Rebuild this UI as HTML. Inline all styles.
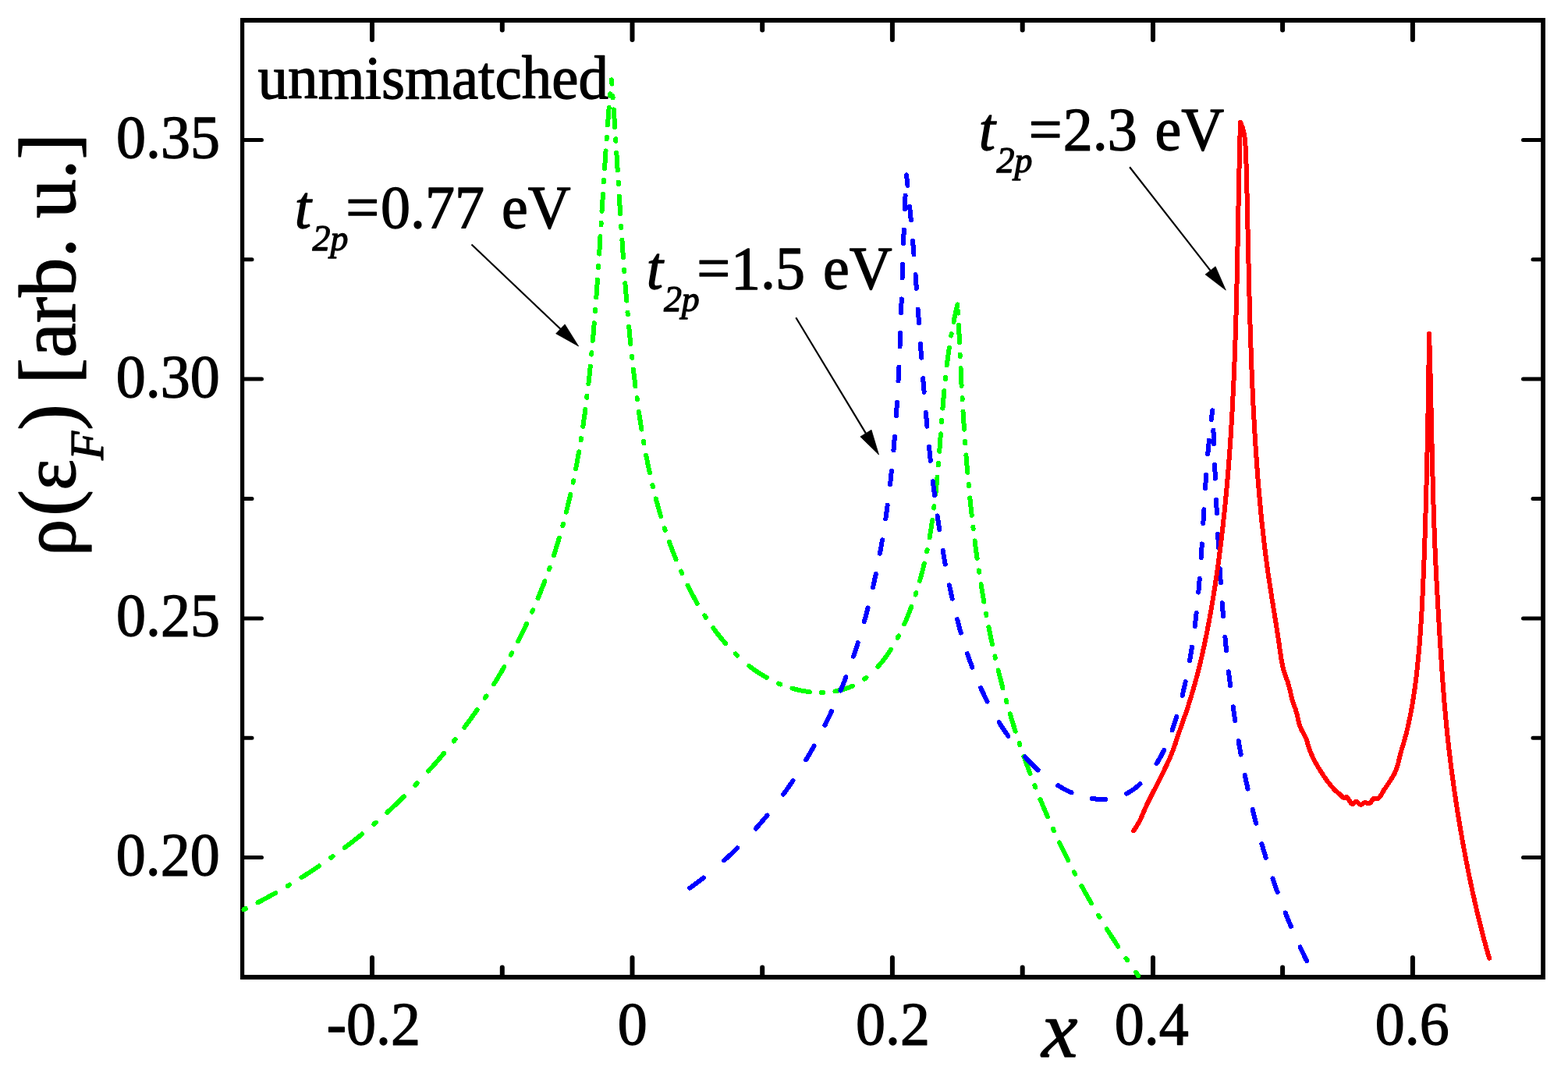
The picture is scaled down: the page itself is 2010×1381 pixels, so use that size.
<!DOCTYPE html>
<html lang="en"><head><meta charset="utf-8"><title>Density of states vs x</title>
<style>
html,body{margin:0;padding:0;background:#fff;}
body{width:2010px;height:1381px;overflow:hidden;}
svg{display:block;}
</style></head>
<body>
<svg width="2010" height="1381" viewBox="0 0 2010 1381">
<rect x="0" y="0" width="2010" height="1381" fill="#fff"/>
<g fill="#000">
<rect x="308" y="23" width="1673" height="6"/>
<rect x="308" y="1250" width="1673" height="6"/>
<rect x="308" y="23" width="5.2" height="1233"/>
<rect x="1975.2" y="23" width="5.8" height="1233"/>
</g>
<g stroke="#000" stroke-linecap="round" fill="none">
<path stroke-width="6" d="M477.0,1252V1228.0M477.0,27V51.0M643.8,1252V1240.5M643.8,27V38.5M810.5,1252V1228.0M810.5,27V51.0M977.2,1252V1240.5M977.2,27V38.5M1143.9,1252V1228.0M1143.9,27V51.0M1310.7,1252V1240.5M1310.7,27V38.5M1478.0,1252V1228.0M1478.0,27V51.0M1644.1,1252V1240.5M1644.1,27V38.5M1810.9,1252V1228.0M1810.9,27V51.0"/>
<path stroke-width="5" d="M311,1099.6H335.5M1978,1099.6H1952.5M311,946.2H323.0M1978,946.2H1965.0M311,792.9H335.5M1978,792.9H1952.5M311,639.5H323.0M1978,639.5H1965.0M311,486.1H335.5M1978,486.1H1952.5M311,332.8H323.0M1978,332.8H1965.0M311,179.4H335.5M1978,179.4H1952.5"/>
</g>
<g fill="none" stroke-linecap="round" stroke-linejoin="round" stroke-width="6.0" shape-rendering="crispEdges">
<path stroke="#00ff00" d="M312.5,1166.3 L313.7,1165.7 L314.9,1165.1 M330.5,1157.3 L331.8,1156.6 L333.1,1155.9 L334.5,1155.2 L335.8,1154.5 L337.1,1153.8 L338.5,1153.0 L339.8,1152.3 L341.1,1151.6 L342.5,1150.9 L343.8,1150.2 L345.1,1149.5 L346.5,1148.7 L347.8,1148.0 L349.1,1147.3 L350.4,1146.5 L351.8,1145.8 L353.1,1145.1 L353.3,1144.9 M368.9,1136.0 L370.1,1135.2 L371.3,1134.5 M386.5,1125.2 L387.7,1124.5 L388.9,1123.7 L390.2,1122.9 L391.5,1122.0 L392.7,1121.2 L394.0,1120.4 L395.3,1119.6 L396.5,1118.8 L397.8,1118.0 L399.1,1117.1 L400.3,1116.3 L401.6,1115.5 L402.8,1114.6 L404.1,1113.8 L405.3,1113.0 L406.6,1112.1 L407.8,1111.3 L409.1,1110.5 M424.3,1099.8 L425.5,1099.0 L426.7,1098.1 M441.9,1086.9 L442.9,1086.2 L444.1,1085.3 L445.3,1084.4 L446.5,1083.5 L447.7,1082.5 L448.8,1081.6 L450.0,1080.7 L451.2,1079.8 L452.4,1078.9 L453.6,1077.9 L454.8,1077.0 L455.9,1076.1 L457.1,1075.1 L458.3,1074.2 L459.5,1073.3 L460.6,1072.3 L461.8,1071.4 L463.0,1070.4 L464.1,1069.5 L464.2,1069.4 M479.4,1056.7 L480.2,1056.0 L481.4,1055.0 L481.7,1054.7 M496.4,1041.7 L497.4,1040.7 L498.5,1039.7 L499.6,1038.7 L500.7,1037.7 L501.8,1036.7 L502.9,1035.7 L504.0,1034.6 L505.1,1033.6 L506.2,1032.6 L507.3,1031.6 L508.4,1030.5 L509.5,1029.5 L510.5,1028.5 L511.6,1027.4 L512.7,1026.4 L513.8,1025.3 L514.9,1024.3 L515.9,1023.3 L517.0,1022.2 L517.9,1021.3 M532.4,1006.7 L533.2,1005.9 L534.2,1004.8 L534.7,1004.3 M549.1,988.8 L549.8,988.0 L550.8,986.9 L551.8,985.8 L552.8,984.7 L553.8,983.6 L554.8,982.5 L555.8,981.3 L556.8,980.2 L557.8,979.1 L558.8,978.0 L559.8,976.8 L560.7,975.7 L561.7,974.6 L562.7,973.4 L563.7,972.3 L564.6,971.2 L565.6,970.0 L566.6,968.9 L567.5,967.7 L568.5,966.6 L569.1,965.9 M581.7,950.4 L582.4,949.6 L583.3,948.4 L583.6,948.0 M595.3,932.7 L596.0,931.8 L596.9,930.6 L597.8,929.4 L598.7,928.2 L599.6,926.9 L600.5,925.7 L601.4,924.5 L602.2,923.3 L603.1,922.1 L604.0,920.9 L604.9,919.7 L605.7,918.5 L606.6,917.2 L607.5,916.0 L608.3,914.8 L609.2,913.6 L610.0,912.3 L610.9,911.1 L611.5,910.2 M621.8,894.9 L622.6,893.7 L623.4,892.5 M633.1,877.3 L633.6,876.5 L634.4,875.2 L635.2,873.9 L635.9,872.6 L636.7,871.4 L637.5,870.1 L638.3,868.8 L639.0,867.5 L639.8,866.2 L640.6,864.9 L641.3,863.7 L642.1,862.4 L642.9,861.1 L643.6,859.8 L644.4,858.5 L645.1,857.2 L645.9,855.9 L646.4,854.9 M654.9,839.7 L655.6,838.5 L656.2,837.3 M664.2,822.2 L664.9,820.8 L665.5,819.5 L666.2,818.2 L666.9,816.8 L667.6,815.5 L668.2,814.1 L668.9,812.8 L669.5,811.5 L670.2,810.1 L670.9,808.8 L671.5,807.4 L672.2,806.1 L672.8,804.7 L673.5,803.4 L674.1,802.0 L674.7,800.7 L675.1,799.8 M682.1,784.7 L682.6,783.5 L683.1,782.3 M689.5,767.3 L690.0,766.1 L690.6,764.7 L691.2,763.3 L691.7,762.0 L692.3,760.6 L692.8,759.2 L693.4,757.8 L694.0,756.4 L694.5,755.0 L695.0,753.6 L695.6,752.3 L696.1,750.9 L696.7,749.5 L697.2,748.1 L697.7,746.7 L698.3,745.3 L698.3,745.2 M703.8,730.2 L704.2,729.0 L704.7,727.8 M709.9,712.4 L710.3,711.1 L710.7,709.7 L711.2,708.3 L711.6,706.9 L712.1,705.4 L712.5,704.0 L713.0,702.6 L713.4,701.2 L713.9,699.8 L714.3,698.3 L714.7,696.9 L715.2,695.5 L715.6,694.1 L716.0,692.6 L716.4,691.2 L716.9,689.8 L716.9,689.7 M721.3,674.3 L721.6,673.1 L721.9,671.9 M725.9,656.6 L726.2,655.3 L726.6,653.8 L726.9,652.4 L727.3,651.0 L727.6,649.5 L728.0,648.1 L728.3,646.6 L728.7,645.2 L729.0,643.7 L729.4,642.3 L729.7,640.8 L730.0,639.3 L730.4,637.9 L730.7,636.4 L731.0,635.0 L731.3,634.0 M734.6,618.7 L734.9,617.5 L735.1,616.3 M738.1,601.4 L738.4,599.9 L738.6,598.4 L738.9,596.9 L739.2,595.5 L739.5,594.0 L739.7,592.5 L740.0,591.1 L740.3,589.6 L740.5,588.1 L740.8,586.6 L741.1,585.2 L741.3,583.7 L741.6,582.2 L741.9,580.7 L742.1,579.3 M744.6,564.3 L744.8,563.0 L745.0,562.0 M747.3,547.0 L747.5,545.7 L747.7,544.2 L747.9,542.7 L748.1,541.2 L748.3,539.7 L748.5,538.2 L748.7,536.7 L748.9,535.2 L749.1,533.7 L749.4,532.3 L749.6,530.8 L749.8,529.3 L750.0,527.8 L750.2,526.3 L750.3,525.0 M752.2,510.0 L752.4,508.8 L752.5,507.6 M754.3,492.3 L754.5,490.9 L754.7,489.4 L754.8,487.9 L755.0,486.3 L755.1,484.8 L755.3,483.3 L755.5,481.8 L755.6,480.3 L755.8,478.8 L756.0,477.3 L756.1,475.8 L756.3,474.3 L756.4,472.8 L756.6,471.3 L756.7,469.8 L756.7,469.8 M758.2,454.5 L758.4,453.2 L758.5,452.0 M759.9,436.8 L760.0,435.7 L760.1,434.1 L760.2,432.6 L760.4,431.1 L760.5,429.6 L760.6,428.1 L760.7,426.6 L760.9,425.1 L761.0,423.6 L761.1,422.1 L761.3,420.5 L761.4,419.0 L761.5,417.5 L761.6,416.0 L761.8,414.5 L761.8,414.3 M763.0,399.1 L763.1,397.9 L763.2,396.7 M764.3,381.3 L764.4,380.2 L764.5,378.7 L764.6,377.2 L764.7,375.7 L764.8,374.2 L764.9,372.7 L765.0,371.1 L765.2,369.6 L765.3,368.1 L765.4,366.6 L765.5,365.1 L765.6,363.6 L765.7,362.1 L765.8,360.6 L765.9,359.0 L765.9,358.5 M767.0,343.1 L767.0,341.9 L767.1,340.7 M768.1,325.6 L768.2,324.3 L768.3,322.7 L768.4,321.2 L768.5,319.7 L768.6,318.2 L768.7,316.7 L768.8,315.2 L768.9,313.7 L769.0,312.2 L769.1,310.7 L769.2,309.1 L769.3,307.6 L769.3,306.1 L769.4,304.6 L769.5,303.3 M770.5,288.2 L770.5,287.0 L770.6,285.8 M771.5,270.8 L771.6,269.4 L771.7,267.9 L771.8,266.4 L771.9,264.9 L772.0,263.4 L772.1,261.9 L772.2,260.4 L772.3,258.9 L772.4,257.4 L772.5,255.9 L772.6,254.4 L772.6,252.9 L772.7,251.4 L772.8,249.9 L772.9,248.6 M773.9,233.5 L773.9,232.4 L774.0,231.2 M775.0,215.9 L775.1,214.9 L775.2,213.4 L775.3,211.9 L775.4,210.4 L775.5,208.9 L775.6,207.4 L775.7,205.9 L775.8,204.4 L775.9,202.9 L776.0,201.5 L776.1,200.0 L776.2,198.5 L776.3,197.0 L776.4,195.5 L776.5,194.0 L776.5,193.4 M777.6,178.2 L777.7,177.1 L777.8,175.8 M778.9,160.5 L779.0,159.4 L779.1,157.9 L779.2,156.4 L779.4,154.9 L779.5,153.5 L779.6,152.0 L779.7,150.5 L779.8,149.0 L779.9,147.5 L780.1,146.1 L780.2,144.6 L780.3,143.1 L780.4,141.7 L780.5,140.2 L780.7,138.7 L780.7,138.0 M782.0,122.8 L782.1,121.6 L782.2,120.4 M783.6,105.1 L783.7,104.0 L783.9,102.6 L783.9,102.4 M783.9,102.4 L784.0,103.9 L784.1,105.4 L784.2,106.9 L784.3,107.6 M785.4,122.9 L785.5,124.2 L785.6,125.3 M786.7,140.5 L786.8,141.6 L786.9,143.1 L787.0,144.6 L787.1,146.1 L787.2,147.5 L787.3,149.0 L787.4,150.5 L787.5,152.0 L787.6,153.5 L787.7,155.0 L787.8,156.5 L787.9,158.0 L788.0,159.5 L788.1,161.0 L788.2,162.5 L788.2,163.0 M789.2,178.3 L789.3,179.4 L789.3,180.7 M790.3,195.9 L790.4,197.4 L790.5,198.9 L790.6,200.4 L790.7,201.9 L790.8,203.4 L790.9,204.9 L791.0,206.4 L791.1,207.9 L791.2,209.4 L791.3,210.9 L791.3,212.4 L791.4,213.9 L791.5,215.4 L791.6,216.9 L791.7,218.4 L791.7,218.4 M792.7,233.7 L792.7,234.9 L792.8,236.1 M793.8,251.5 L793.9,252.9 L794.0,254.4 L794.1,255.9 L794.1,257.4 L794.2,258.9 L794.3,260.4 L794.4,261.9 L794.5,263.4 L794.6,264.9 L794.7,266.4 L794.8,267.9 L794.9,269.4 L795.0,270.9 L795.1,272.4 L795.2,273.9 L795.2,274.3 M796.2,289.7 L796.3,290.9 L796.4,292.1 M797.4,307.6 L797.5,308.9 L797.6,310.5 L797.7,312.0 L797.8,313.5 L797.9,315.0 L798.0,316.5 L798.1,318.0 L798.2,319.5 L798.3,321.0 L798.4,322.5 L798.5,324.0 L798.6,325.5 L798.7,327.0 L798.8,328.5 L798.9,330.0 L799.0,330.3 M800.1,345.8 L800.2,347.0 L800.3,348.2 M801.4,363.3 L801.5,364.5 L801.6,366.0 L801.7,367.5 L801.9,369.0 L802.0,370.5 L802.1,372.0 L802.2,373.5 L802.3,375.0 L802.5,376.5 L802.6,378.0 L802.7,379.5 L802.8,381.0 L803.0,382.5 L803.1,384.0 L803.2,385.5 L803.2,385.6 M804.5,400.8 L804.6,402.0 L804.7,403.2 M806.1,418.5 L806.3,419.9 L806.4,421.4 L806.6,422.9 L806.7,424.4 L806.9,425.9 L807.0,427.4 L807.1,428.9 L807.3,430.4 L807.4,431.9 L807.6,433.4 L807.7,434.8 L807.9,436.3 L808.0,437.8 L808.2,439.3 L808.3,440.8 L808.4,441.2 M810.0,456.5 L810.1,457.7 L810.2,458.9 M811.9,473.6 L812.0,474.6 L812.2,476.1 L812.4,477.5 L812.5,479.0 L812.7,480.5 L812.9,482.0 L813.1,483.5 L813.3,485.0 L813.4,486.5 L813.6,487.9 L813.8,489.4 L814.0,490.9 L814.2,492.4 L814.4,493.9 L814.5,495.3 M816.5,510.0 L816.6,511.2 L816.8,512.4 M818.9,527.8 L819.1,528.9 L819.3,530.4 L819.5,531.8 L819.7,533.3 L820.0,534.8 L820.2,536.3 L820.4,537.7 L820.6,539.2 L820.8,540.7 L821.1,542.2 L821.3,543.6 L821.5,545.1 L821.8,546.6 L822.0,548.0 L822.2,549.5 L822.4,550.5 M825.0,565.9 L825.2,567.1 L825.4,568.3 M828.2,583.7 L828.4,584.7 L828.7,586.2 L829.0,587.6 L829.3,589.1 L829.6,590.5 L829.9,592.0 L830.1,593.5 L830.4,594.9 L830.7,596.4 L831.0,597.8 L831.3,599.3 L831.7,600.7 L832.0,602.2 L832.3,603.6 L832.6,605.1 L832.9,606.4 M836.4,621.8 L836.7,623.0 L836.9,624.2 M840.8,639.5 L841.1,640.8 L841.5,642.3 L841.9,643.7 L842.3,645.1 L842.7,646.6 L843.1,648.0 L843.5,649.5 L843.9,650.9 L844.3,652.3 L844.7,653.8 L845.1,655.2 L845.5,656.7 L846.0,658.1 L846.4,659.5 L846.8,661.0 L847.1,662.1 M851.9,677.4 L852.3,678.6 L852.7,679.8 M858.0,695.0 L858.4,696.1 L858.9,697.6 L859.4,699.0 L859.9,700.4 L860.5,701.8 L861.0,703.2 L861.5,704.7 L862.1,706.1 L862.6,707.5 L863.2,708.9 L863.7,710.3 L864.3,711.7 L864.8,713.1 L865.4,714.5 L866.0,716.0 L866.5,717.4 L866.5,717.4 M873.0,732.5 L873.5,733.7 L874.1,735.0 M881.5,750.6 L882.0,751.7 L882.7,753.1 L883.4,754.5 L884.1,755.8 L884.8,757.2 L885.5,758.6 L886.2,759.9 L886.9,761.3 L887.6,762.6 L888.3,764.0 L889.1,765.3 L889.8,766.7 L890.5,768.0 L891.3,769.3 L892.0,770.7 L892.8,772.0 L893.5,773.3 L893.8,773.8 M903.3,789.4 L904.1,790.7 L904.8,791.7 M914.2,805.2 L914.8,806.0 L915.7,807.2 L916.6,808.4 L917.5,809.6 L918.4,810.8 L919.3,812.0 L920.2,813.2 L921.2,814.4 L922.1,815.6 L923.1,816.7 L924.0,817.9 L925.0,819.0 L925.9,820.2 L926.9,821.3 L927.9,822.5 L928.8,823.6 L929.8,824.7 L930.1,825.0 M942.8,838.4 L943.9,839.5 L945.0,840.5 L945.1,840.6 M960.3,853.8 L961.4,854.7 L962.6,855.6 L963.8,856.5 L964.9,857.3 L966.1,858.2 L967.3,859.1 L968.5,859.9 L969.7,860.8 L971.0,861.6 L972.2,862.4 L973.4,863.2 L974.6,864.0 L975.9,864.8 L977.1,865.6 L978.4,866.3 L979.6,867.1 L980.9,867.8 L982.2,868.6 L982.8,868.9 M998.0,876.5 L999.2,877.0 L1000.4,877.5 M1015.5,882.7 L1016.9,883.1 L1018.3,883.5 L1019.7,883.9 L1021.2,884.2 L1022.6,884.6 L1024.1,884.9 L1025.5,885.2 L1027.0,885.5 L1028.5,885.8 L1029.9,886.0 L1031.4,886.3 L1032.9,886.5 L1034.3,886.7 L1035.8,886.9 L1037.3,887.1 L1037.8,887.1 M1052.9,887.9 L1054.1,887.9 L1055.3,887.8 M1070.5,886.4 L1071.5,886.2 L1072.9,885.9 L1074.3,885.6 L1075.7,885.3 L1077.1,885.0 L1078.5,884.6 L1079.9,884.3 L1081.3,883.9 L1082.6,883.5 L1084.0,883.1 L1085.3,882.6 L1086.7,882.1 L1088.0,881.6 L1089.3,881.1 L1090.6,880.6 L1091.9,880.0 L1092.9,879.6 M1108.1,870.6 L1108.9,870.0 L1110.1,869.2 L1110.5,868.8 M1125.3,855.0 L1126.2,853.9 L1127.2,852.8 L1128.1,851.7 L1129.1,850.6 L1130.0,849.4 L1131.0,848.3 L1131.9,847.1 L1132.8,845.9 L1133.7,844.7 L1134.6,843.5 L1135.5,842.3 L1136.4,841.1 L1137.3,839.8 L1138.1,838.6 L1139.0,837.3 L1139.8,836.0 L1140.6,834.8 L1141.5,833.5 L1141.9,832.8 M1150.6,817.8 L1151.3,816.6 L1151.9,815.4 M1159.2,800.2 L1159.8,799.0 L1160.4,797.6 L1161.1,796.1 L1161.7,794.7 L1162.3,793.3 L1162.9,791.9 L1163.5,790.4 L1164.0,789.0 L1164.6,787.5 L1165.2,786.1 L1165.8,784.7 L1166.3,783.2 L1166.9,781.8 L1167.4,780.3 L1168.0,778.9 L1168.4,777.8 M1173.6,762.6 L1174.0,761.4 L1174.4,760.2 M1179.0,744.9 L1179.3,743.8 L1179.7,742.3 L1180.1,740.9 L1180.5,739.4 L1180.9,737.9 L1181.3,736.5 L1181.7,735.0 L1182.1,733.5 L1182.5,732.1 L1182.8,730.6 L1183.2,729.1 L1183.6,727.6 L1183.9,726.2 L1184.3,724.7 L1184.6,723.2 L1184.8,722.5 M1188.2,707.3 L1188.4,706.1 L1188.7,704.9 M1191.6,689.5 L1191.8,688.4 L1192.0,686.9 L1192.3,685.4 L1192.5,683.9 L1192.8,682.5 L1193.0,681.0 L1193.2,679.5 L1193.5,678.0 L1193.7,676.6 L1193.9,675.1 L1194.2,673.6 L1194.4,672.1 L1194.6,670.6 L1194.8,669.2 L1195.1,667.7 L1195.2,666.9 M1197.2,651.6 L1197.4,650.4 L1197.5,649.2 M1199.3,634.0 L1199.4,632.6 L1199.6,631.2 L1199.7,629.7 L1199.9,628.2 L1200.0,626.7 L1200.2,625.2 L1200.3,623.7 L1200.5,622.3 L1200.6,620.8 L1200.8,619.3 L1200.9,617.8 L1201.1,616.3 L1201.2,614.8 L1201.3,613.3 L1201.5,611.9 L1201.5,611.6 M1202.8,596.4 L1202.9,595.0 L1203.0,594.0 M1204.2,578.8 L1204.3,577.7 L1204.4,576.2 L1204.5,574.7 L1204.6,573.2 L1204.7,571.7 L1204.8,570.3 L1205.0,568.8 L1205.1,567.3 L1205.2,565.8 L1205.3,564.3 L1205.4,562.8 L1205.5,561.3 L1205.6,559.8 L1205.7,558.4 L1205.8,556.9 L1205.9,556.4 M1207.0,541.2 L1207.1,540.0 L1207.2,538.8 M1208.4,523.6 L1208.5,522.6 L1208.6,521.1 L1208.7,519.7 L1208.8,518.2 L1209.0,516.7 L1209.1,515.2 L1209.2,513.7 L1209.3,512.2 L1209.5,510.7 L1209.6,509.2 L1209.7,507.7 L1209.9,506.3 L1210.0,504.8 L1210.1,503.3 L1210.3,501.8 L1210.3,501.3 M1211.8,486.1 L1211.9,484.9 L1212.1,483.7 M1213.8,468.4 L1214.0,467.1 L1214.2,465.6 L1214.3,464.1 L1214.5,462.6 L1214.7,461.1 L1214.9,459.6 L1215.1,458.1 L1215.3,456.7 L1215.5,455.2 L1215.7,453.7 L1215.9,452.2 L1216.1,450.7 L1216.3,449.2 L1216.6,447.7 L1216.8,446.2 L1216.8,445.9 M1219.2,430.6 L1219.4,429.4 L1219.7,428.2 M1222.5,413.0 L1222.7,411.6 L1223.0,410.1 L1223.3,408.6 L1223.7,407.1 L1224.0,405.6 L1224.3,404.2 L1224.6,402.7 L1224.9,401.2 L1225.2,399.7 L1225.6,398.2 L1225.9,396.7 L1226.3,395.3 L1226.6,393.8 L1226.9,392.3 L1227.3,390.8 L1227.4,390.5 M1228.2,399.2 L1228.2,399.6 L1228.3,400.1 L1228.3,400.6 L1228.3,401.1 L1228.3,401.6 M1229.0,416.8 L1229.0,418.0 L1229.1,419.5 L1229.1,420.9 L1229.2,422.4 L1229.3,423.9 L1229.3,425.4 L1229.4,426.9 L1229.5,428.4 L1229.5,429.9 L1229.6,431.4 L1229.6,432.9 L1229.7,434.4 L1229.8,435.9 L1229.8,437.4 L1229.9,438.8 L1229.9,439.3 M1230.6,454.6 L1230.7,455.8 L1230.7,457.0 M1231.5,472.2 L1231.5,473.2 L1231.6,474.7 L1231.7,476.2 L1231.7,477.7 L1231.8,479.2 L1231.9,480.7 L1232.0,482.2 L1232.0,483.7 L1232.1,485.2 L1232.2,486.7 L1232.3,488.2 L1232.4,489.7 L1232.4,491.2 L1232.5,492.7 L1232.6,494.2 L1232.6,494.7 M1233.5,510.0 L1233.5,511.2 L1233.6,512.4 M1234.5,527.8 L1234.6,529.2 L1234.7,530.7 L1234.8,532.2 L1234.9,533.7 L1235.0,535.2 L1235.1,536.7 L1235.2,538.2 L1235.3,539.7 L1235.4,541.2 L1235.5,542.7 L1235.6,544.2 L1235.7,545.7 L1235.8,547.2 L1235.9,548.7 L1236.0,550.2 L1236.0,550.6 M1237.1,566.0 L1237.2,567.2 L1237.3,568.4 M1238.4,583.5 L1238.5,584.7 L1238.6,586.2 L1238.7,587.7 L1238.9,589.2 L1239.0,590.7 L1239.1,592.2 L1239.2,593.7 L1239.4,595.2 L1239.5,596.7 L1239.6,598.2 L1239.7,599.7 L1239.9,601.2 L1240.0,602.7 L1240.1,604.2 L1240.2,605.7 L1240.3,605.8 M1241.6,620.9 L1241.7,622.2 L1241.8,623.3 M1243.3,638.4 L1243.4,639.7 L1243.6,641.1 L1243.7,642.6 L1243.9,644.1 L1244.0,645.6 L1244.2,647.1 L1244.3,648.6 L1244.5,650.1 L1244.7,651.6 L1244.8,653.1 L1245.0,654.6 L1245.1,656.1 L1245.3,657.6 L1245.5,659.1 L1245.6,660.6 L1245.7,660.7 M1247.4,675.8 L1247.5,677.0 L1247.7,678.2 M1249.6,693.5 L1249.7,694.9 L1249.9,696.4 L1250.1,697.9 L1250.3,699.4 L1250.5,700.9 L1250.7,702.4 L1250.9,703.9 L1251.1,705.4 L1251.3,706.9 L1251.5,708.4 L1251.7,709.8 L1251.9,711.3 L1252.1,712.8 L1252.3,714.3 L1252.5,715.8 L1252.6,716.1 M1254.8,731.4 L1255.0,732.6 L1255.2,733.8 M1257.5,749.0 L1257.7,750.4 L1258.0,751.9 L1258.2,753.4 L1258.5,754.9 L1258.7,756.4 L1259.0,757.9 L1259.2,759.3 L1259.5,760.8 L1259.7,762.3 L1260.0,763.8 L1260.2,765.2 L1260.5,766.7 L1260.7,768.2 L1261.0,769.7 L1261.2,771.2 L1261.3,771.5 M1264.0,786.7 L1264.3,787.9 L1264.5,789.1 M1267.4,804.1 L1267.7,805.5 L1268.0,807.0 L1268.3,808.5 L1268.6,809.9 L1268.9,811.4 L1269.2,812.9 L1269.5,814.3 L1269.8,815.8 L1270.1,817.3 L1270.4,818.7 L1270.7,820.2 L1271.0,821.7 L1271.3,823.1 L1271.6,824.6 L1271.9,826.1 L1272.0,826.4 M1275.4,841.4 L1275.6,842.6 L1275.9,843.9 M1279.6,859.4 L1279.9,860.6 L1280.3,862.0 L1280.6,863.5 L1281.0,864.9 L1281.4,866.4 L1281.7,867.8 L1282.1,869.3 L1282.5,870.7 L1282.8,872.2 L1283.2,873.6 L1283.6,875.1 L1283.9,876.5 L1284.3,878.0 L1284.7,879.4 L1285.1,880.9 L1285.5,882.3 L1285.5,882.4 M1289.7,897.9 L1290.1,899.2 L1290.4,900.4 M1294.8,915.4 L1295.1,916.4 L1295.5,917.8 L1295.9,919.3 L1296.4,920.7 L1296.8,922.1 L1297.2,923.6 L1297.7,925.0 L1298.1,926.4 L1298.6,927.9 L1299.0,929.3 L1299.4,930.7 L1299.9,932.1 L1300.3,933.6 L1300.8,935.0 L1301.2,936.4 L1301.7,937.7 M1306.6,952.8 L1307.0,954.0 L1307.4,955.1 M1312.5,970.1 L1313.0,971.4 L1313.5,972.8 L1314.0,974.2 L1314.5,975.6 L1315.0,977.0 L1315.5,978.4 L1316.0,979.9 L1316.5,981.3 L1317.1,982.7 L1317.6,984.1 L1318.1,985.5 L1318.6,986.9 L1319.1,988.3 L1319.6,989.7 L1320.2,991.1 L1320.6,992.2 M1326.3,1007.1 L1326.8,1008.3 L1327.3,1009.5 M1333.4,1024.8 L1333.9,1025.9 L1334.4,1027.3 L1335.0,1028.7 L1335.6,1030.0 L1336.2,1031.4 L1336.7,1032.8 L1337.3,1034.2 L1337.9,1035.6 L1338.5,1036.9 L1339.1,1038.3 L1339.7,1039.7 L1340.3,1041.1 L1340.9,1042.4 L1341.4,1043.8 L1342.0,1045.2 L1342.6,1046.6 L1343.0,1047.4 M1349.8,1062.7 L1350.4,1063.9 L1350.9,1065.1 M1358.1,1080.4 L1358.6,1081.5 L1359.3,1082.9 L1359.9,1084.2 L1360.6,1085.6 L1361.2,1086.9 L1361.9,1088.3 L1362.5,1089.6 L1363.2,1091.0 L1363.8,1092.3 L1364.5,1093.7 L1365.2,1095.0 L1365.8,1096.3 L1366.5,1097.7 L1367.2,1099.0 L1367.8,1100.4 L1368.5,1101.7 L1369.1,1103.0 M1377.0,1118.3 L1377.6,1119.5 L1378.3,1120.7 M1386.4,1135.9 L1387.1,1137.1 L1387.8,1138.4 L1388.5,1139.7 L1389.3,1141.1 L1390.0,1142.4 L1390.7,1143.7 L1391.5,1145.0 L1392.2,1146.3 L1392.9,1147.6 L1393.7,1148.9 L1394.4,1150.2 L1395.1,1151.5 L1395.9,1152.8 L1396.6,1154.1 L1397.4,1155.4 L1398.1,1156.7 L1398.9,1158.0 L1399.1,1158.4 M1408.1,1173.7 L1408.8,1174.9 L1409.5,1176.1 M1418.9,1191.3 L1419.5,1192.4 L1420.3,1193.6 L1421.2,1194.9 L1422.0,1196.2 L1422.8,1197.5 L1423.6,1198.7 L1424.4,1200.0 L1425.2,1201.3 L1426.0,1202.5 L1426.8,1203.8 L1427.6,1205.1 L1428.5,1206.3 L1429.3,1207.6 L1430.1,1208.8 L1430.9,1210.1 L1431.7,1211.4 L1432.6,1212.6 L1433.3,1213.7 M1443.5,1228.9 L1444.4,1230.1 L1445.2,1231.3 M1455.9,1246.6 L1456.5,1247.4 L1457.4,1248.6 L1458.3,1249.9 L1459.1,1251.1 L1459.3,1251.3"/>
<path stroke="#0000ff" d="M884.2,1138.8 L885.0,1138.2 L886.3,1137.3 L887.6,1136.4 L888.8,1135.4 L890.1,1134.5 L891.3,1133.6 L892.5,1132.7 L893.8,1131.7 L895.0,1130.8 L896.2,1129.9 L897.5,1128.9 L898.7,1128.0 L899.9,1127.0 L901.1,1126.1 L901.7,1125.6 M928.2,1103.3 L929.2,1102.5 L930.3,1101.4 L931.4,1100.4 L932.5,1099.4 L933.6,1098.4 L934.8,1097.3 L935.9,1096.3 L937.0,1095.3 L938.1,1094.2 L939.2,1093.2 L940.2,1092.1 L941.3,1091.1 L942.4,1090.1 L943.5,1089.0 L944.6,1087.9 L945.2,1087.4 M968.8,1062.6 L969.7,1061.5 L970.7,1060.4 L971.7,1059.3 L972.7,1058.1 L973.7,1057.0 L974.7,1055.9 L975.6,1054.8 L976.6,1053.6 L977.6,1052.5 L978.5,1051.3 L979.5,1050.2 L980.5,1049.1 L981.4,1047.9 L982.4,1046.8 L983.3,1045.6 L983.4,1045.5 M1004.2,1018.6 L1004.8,1017.8 L1005.6,1016.6 L1006.5,1015.4 L1007.4,1014.2 L1008.2,1012.9 L1009.1,1011.7 L1009.9,1010.5 L1010.8,1009.3 L1011.6,1008.1 L1012.5,1006.9 L1013.3,1005.6 L1014.1,1004.4 L1015.0,1003.2 L1015.8,1002.0 L1016.5,1000.9 M1033.3,974.3 L1034.0,973.2 L1034.7,971.9 L1035.5,970.6 L1036.2,969.3 L1037.0,968.1 L1037.7,966.8 L1038.5,965.5 L1039.2,964.2 L1039.9,962.9 L1040.7,961.6 L1041.4,960.4 L1042.1,959.1 L1042.8,957.8 L1043.5,956.6 M1057.5,929.8 L1058.2,928.5 L1058.8,927.1 L1059.5,925.8 L1060.1,924.5 L1060.8,923.1 L1061.4,921.8 L1062.1,920.4 L1062.7,919.1 L1063.3,917.8 L1064.0,916.4 L1064.6,915.1 L1065.2,913.7 L1065.8,912.4 L1066.0,912.1 M1077.5,885.6 L1077.9,884.7 L1078.4,883.3 L1079.0,881.9 L1079.6,880.5 L1080.1,879.2 L1080.7,877.8 L1081.2,876.4 L1081.8,875.0 L1082.3,873.6 L1082.8,872.3 L1083.4,870.9 L1083.9,869.5 L1084.4,868.1 M1094.0,841.7 L1094.4,840.5 L1094.9,839.1 L1095.3,837.7 L1095.8,836.3 L1096.3,834.9 L1096.8,833.5 L1097.2,832.0 L1097.7,830.6 L1098.1,829.2 L1098.6,827.8 L1099.1,826.4 L1099.5,825.0 L1099.8,824.1 M1107.8,797.1 L1108.2,795.9 L1108.6,794.4 L1109.0,793.0 L1109.4,791.6 L1109.8,790.1 L1110.2,788.7 L1110.5,787.2 L1110.9,785.8 L1111.3,784.3 L1111.7,782.9 L1112.1,781.5 L1112.4,780.0 L1112.6,779.5 M1119.0,753.3 L1119.3,751.9 L1119.6,750.5 L1119.9,749.0 L1120.2,747.5 L1120.6,746.1 L1120.9,744.6 L1121.2,743.2 L1121.5,741.7 L1121.8,740.2 L1122.2,738.8 L1122.5,737.3 L1122.8,735.9 M1127.9,709.7 L1128.2,708.4 L1128.4,706.9 L1128.7,705.4 L1129.0,703.9 L1129.2,702.5 L1129.5,701.0 L1129.8,699.5 L1130.0,698.0 L1130.3,696.5 L1130.5,695.1 L1130.8,693.6 L1131.0,692.1 L1131.0,692.1 M1135.2,665.3 L1135.5,663.9 L1135.7,662.4 L1135.9,660.9 L1136.1,659.4 L1136.3,657.9 L1136.5,656.4 L1136.7,654.9 L1136.9,653.4 L1137.1,651.9 L1137.3,650.4 L1137.5,648.9 L1137.7,647.6 M1141.0,621.2 L1141.1,620.0 L1141.3,618.5 L1141.5,617.0 L1141.6,615.5 L1141.8,614.0 L1142.0,612.5 L1142.1,611.0 L1142.3,609.4 L1142.4,607.9 L1142.6,606.4 L1142.8,604.9 L1142.9,603.6 M1145.4,577.2 L1145.6,575.8 L1145.7,574.3 L1145.8,572.8 L1145.9,571.3 L1146.1,569.8 L1146.2,568.3 L1146.3,566.8 L1146.4,565.2 L1146.6,563.7 L1146.7,562.2 L1146.8,560.7 L1146.9,559.6 M1148.8,533.2 L1148.9,532.0 L1149.0,530.5 L1149.1,529.0 L1149.2,527.5 L1149.3,525.9 L1149.4,524.4 L1149.5,522.9 L1149.6,521.4 L1149.7,519.9 L1149.8,518.4 L1149.9,516.9 L1150.0,515.5 M1151.5,488.5 L1151.6,487.1 L1151.6,485.6 L1151.7,484.0 L1151.8,482.5 L1151.9,481.0 L1151.9,479.5 L1152.0,478.0 L1152.1,476.5 L1152.2,475.0 L1152.2,473.4 L1152.3,471.9 L1152.4,470.8 M1153.5,444.4 L1153.5,443.2 L1153.6,441.7 L1153.7,440.2 L1153.7,438.6 L1153.8,437.1 L1153.8,435.6 L1153.9,434.1 L1154.0,432.6 L1154.0,431.1 L1154.1,429.6 L1154.1,428.1 L1154.2,427.0 M1155.1,401.0 L1155.1,399.9 L1155.2,398.4 L1155.2,396.9 L1155.3,395.4 L1155.3,393.9 L1155.4,392.3 L1155.4,390.8 L1155.5,389.3 L1155.5,387.8 L1155.6,386.3 L1155.6,384.8 L1155.7,383.4 M1156.6,356.3 L1156.6,354.8 L1156.7,353.3 L1156.7,351.8 L1156.8,350.3 L1156.8,348.8 L1156.9,347.3 L1156.9,345.8 L1157.0,344.3 L1157.0,342.8 L1157.1,341.3 L1157.1,339.8 L1157.1,338.6 M1158.0,312.2 L1158.1,310.9 L1158.1,309.5 L1158.2,308.0 L1158.3,306.5 L1158.3,305.0 L1158.4,303.5 L1158.4,302.0 L1158.5,300.5 L1158.5,299.1 L1158.6,297.6 L1158.6,296.1 L1158.7,294.7 M1159.8,268.2 L1159.8,267.0 L1159.9,265.5 L1160.0,264.1 L1160.0,262.6 L1160.1,261.1 L1160.2,259.6 L1160.2,258.2 L1160.3,256.7 L1160.4,255.2 L1160.4,253.8 L1160.5,252.3 L1160.6,250.8 L1160.6,250.6 M1162.0,224.4 L1162.2,225.9 L1162.3,227.4 L1162.5,228.9 L1162.7,230.4 L1162.8,231.9 L1163.0,233.4 L1163.1,235.0 L1163.3,236.5 L1163.5,238.0 L1163.5,238.0 M1166.1,264.6 L1166.3,266.0 L1166.4,267.5 L1166.5,269.1 L1166.7,270.6 L1166.8,272.1 L1167.0,273.6 L1167.1,275.1 L1167.2,276.6 L1167.4,278.1 L1167.5,279.6 L1167.7,281.1 L1167.8,282.2 M1170.1,308.7 L1170.2,310.0 L1170.3,311.5 L1170.4,313.0 L1170.5,314.5 L1170.7,316.0 L1170.8,317.5 L1170.9,319.0 L1171.0,320.5 L1171.1,322.0 L1171.3,323.5 L1171.4,325.0 L1171.5,326.2 M1173.5,352.2 L1173.6,353.4 L1173.7,354.9 L1173.8,356.4 L1173.9,357.9 L1174.0,359.4 L1174.1,360.9 L1174.2,362.4 L1174.4,363.9 L1174.5,365.4 L1174.6,366.9 L1174.7,368.3 L1174.8,369.8 M1176.7,396.7 L1176.8,398.2 L1176.9,399.7 L1177.1,401.2 L1177.2,402.6 L1177.3,404.1 L1177.4,405.6 L1177.5,407.1 L1177.6,408.6 L1177.7,410.1 L1177.8,411.6 L1177.9,413.1 L1178.0,414.4 M1179.9,441.0 L1180.0,442.3 L1180.1,443.8 L1180.2,445.3 L1180.3,446.8 L1180.4,448.3 L1180.5,449.8 L1180.7,451.3 L1180.8,452.8 L1180.9,454.2 L1181.0,455.7 L1181.1,457.2 L1181.2,458.6 M1183.2,485.1 L1183.3,486.4 L1183.4,487.9 L1183.5,489.4 L1183.7,490.9 L1183.8,492.4 L1183.9,493.9 L1184.0,495.4 L1184.1,496.8 L1184.2,498.3 L1184.4,499.8 L1184.5,501.3 L1184.6,502.7 M1186.8,529.1 L1186.9,530.5 L1187.1,532.0 L1187.2,533.5 L1187.3,535.0 L1187.5,536.4 L1187.6,537.9 L1187.7,539.4 L1187.9,540.9 L1188.0,542.4 L1188.1,543.9 L1188.3,545.4 L1188.4,546.7 M1191.0,573.2 L1191.1,574.6 L1191.3,576.0 L1191.4,577.5 L1191.6,579.0 L1191.7,580.5 L1191.9,582.0 L1192.0,583.5 L1192.2,585.0 L1192.3,586.4 L1192.5,587.9 L1192.7,589.4 L1192.8,590.8 M1195.8,617.3 L1196.0,618.6 L1196.2,620.1 L1196.4,621.6 L1196.5,623.1 L1196.7,624.6 L1196.9,626.0 L1197.1,627.5 L1197.3,629.0 L1197.5,630.5 L1197.7,632.0 L1197.9,633.5 L1198.0,634.9 M1201.6,661.4 L1201.8,662.7 L1202.0,664.2 L1202.3,665.7 L1202.5,667.2 L1202.7,668.7 L1202.9,670.1 L1203.1,671.6 L1203.4,673.1 L1203.6,674.6 L1203.8,676.1 L1204.0,677.6 L1204.3,679.0 M1208.6,705.9 L1208.9,707.4 L1209.1,708.8 L1209.4,710.3 L1209.7,711.8 L1209.9,713.3 L1210.2,714.8 L1210.4,716.3 L1210.7,717.8 L1211.0,719.3 L1211.2,720.8 L1211.5,722.3 L1211.8,723.6 M1216.9,750.2 L1217.2,751.6 L1217.5,753.1 L1217.8,754.5 L1218.1,756.0 L1218.4,757.5 L1218.8,759.0 L1219.1,760.5 L1219.4,762.0 L1219.7,763.5 L1220.1,764.9 L1220.4,766.4 L1220.7,767.7 M1227.0,794.1 L1227.4,795.5 L1227.8,796.9 L1228.2,798.4 L1228.5,799.9 L1228.9,801.3 L1229.3,802.8 L1229.7,804.3 L1230.1,805.7 L1230.5,807.2 L1231.0,808.6 L1231.4,810.1 L1231.8,811.5 L1231.8,811.6 M1240.1,838.2 L1240.5,839.4 L1241.0,840.8 L1241.4,842.2 L1241.9,843.7 L1242.4,845.1 L1242.9,846.5 L1243.4,847.9 L1244.0,849.3 L1244.5,850.7 L1245.0,852.1 L1245.5,853.5 L1246.0,854.9 L1246.3,855.7 M1257.2,882.0 L1257.7,883.0 L1258.3,884.4 L1258.9,885.7 L1259.5,887.1 L1260.2,888.4 L1260.8,889.8 L1261.4,891.1 L1262.1,892.5 L1262.7,893.8 L1263.4,895.1 L1264.1,896.5 L1264.7,897.8 L1265.4,899.1 L1265.6,899.5 M1280.6,926.2 L1281.2,927.1 L1282.0,928.4 L1282.8,929.6 L1283.6,930.9 L1284.4,932.1 L1285.2,933.3 L1286.1,934.6 L1286.9,935.8 L1287.7,937.0 L1288.6,938.3 L1289.4,939.5 L1290.3,940.7 L1291.1,941.9 L1292.0,943.2 L1292.4,943.8 M1313.8,970.4 L1314.8,971.5 L1315.8,972.6 L1316.9,973.7 L1317.9,974.8 L1318.9,975.9 L1320.0,977.0 L1321.0,978.1 L1322.1,979.2 L1323.2,980.2 L1324.2,981.3 L1325.3,982.4 L1326.4,983.4 L1327.5,984.5 L1328.6,985.5 L1329.7,986.6 L1330.6,987.4 M1356.3,1007.2 L1357.5,1008.0 L1358.8,1008.7 L1360.0,1009.5 L1361.3,1010.2 L1362.6,1010.9 L1363.9,1011.7 L1365.2,1012.4 L1366.5,1013.0 L1367.9,1013.7 L1369.2,1014.3 L1370.5,1015.0 L1371.9,1015.6 L1373.2,1016.2 L1373.5,1016.3 M1399.7,1023.9 L1400.8,1024.1 L1402.2,1024.3 L1403.6,1024.4 L1405.1,1024.6 L1406.5,1024.7 L1407.9,1024.8 L1409.4,1024.8 L1410.8,1024.9 L1412.2,1024.9 L1413.6,1024.9 L1415.0,1024.9 L1416.4,1024.8 L1417.3,1024.8 M1444.0,1017.7 L1445.1,1017.1 L1446.3,1016.4 L1447.6,1015.7 L1448.8,1015.0 L1450.0,1014.2 L1451.2,1013.4 L1452.4,1012.6 L1453.6,1011.7 L1454.8,1010.9 L1455.9,1010.0 L1457.1,1009.1 L1458.2,1008.1 L1459.3,1007.2 L1460.4,1006.2 L1461.5,1005.2 M1482.6,979.1 L1483.2,978.2 L1484.0,976.9 L1484.8,975.5 L1485.6,974.1 L1486.4,972.8 L1487.2,971.4 L1488.0,970.0 L1488.7,968.6 L1489.5,967.2 L1490.2,965.8 L1490.9,964.4 L1491.6,963.0 L1492.1,962.0 M1502.6,936.4 L1503.0,935.2 L1503.5,933.8 L1504.0,932.3 L1504.5,930.9 L1505.0,929.4 L1505.4,928.0 L1505.9,926.5 L1506.3,925.1 L1506.8,923.6 L1507.2,922.2 L1507.7,920.7 L1508.1,919.3 L1508.2,919.0 M1515.6,891.8 L1515.9,890.6 L1516.2,889.1 L1516.6,887.6 L1516.9,886.2 L1517.3,884.7 L1517.6,883.2 L1518.0,881.8 L1518.3,880.3 L1518.6,878.8 L1519.0,877.4 L1519.3,875.9 L1519.6,874.5 L1519.7,873.9 M1525.0,847.1 L1525.2,846.0 L1525.5,844.6 L1525.7,843.1 L1526.0,841.6 L1526.2,840.2 L1526.5,838.7 L1526.7,837.2 L1526.9,835.7 L1527.2,834.3 L1527.4,832.8 L1527.7,831.3 L1527.9,829.8 L1527.9,829.5 M1531.6,803.1 L1531.8,801.8 L1532.0,800.3 L1532.2,798.8 L1532.3,797.3 L1532.5,795.9 L1532.7,794.4 L1532.9,792.9 L1533.0,791.4 L1533.2,789.9 L1533.4,788.4 L1533.5,787.0 L1533.7,785.7 M1536.2,759.5 L1536.4,758.3 L1536.5,756.8 L1536.6,755.3 L1536.7,753.8 L1536.9,752.3 L1537.0,750.8 L1537.1,749.4 L1537.2,747.9 L1537.4,746.4 L1537.5,744.9 L1537.6,743.4 L1537.7,741.9 M1539.6,715.1 L1539.7,713.6 L1539.8,712.1 L1539.9,710.6 L1540.0,709.1 L1540.1,707.7 L1540.2,706.2 L1540.3,704.7 L1540.4,703.2 L1540.5,701.7 L1540.6,700.2 L1540.7,698.7 L1540.8,697.4 M1542.3,671.1 L1542.4,669.8 L1542.5,668.3 L1542.6,666.8 L1542.7,665.3 L1542.8,663.9 L1542.8,662.4 L1542.9,660.9 L1543.0,659.4 L1543.1,657.9 L1543.2,656.4 L1543.3,654.9 L1543.4,653.4 M1545.0,626.4 L1545.1,625.0 L1545.2,623.5 L1545.3,622.0 L1545.4,620.5 L1545.5,619.0 L1545.6,617.5 L1545.7,616.0 L1545.8,614.5 L1545.9,613.0 L1546.0,611.5 L1546.2,610.0 L1546.2,608.7 M1548.3,582.1 L1548.4,581.0 L1548.5,579.6 L1548.7,578.1 L1548.8,576.6 L1548.9,575.1 L1549.1,573.6 L1549.2,572.1 L1549.4,570.6 L1549.5,569.1 L1549.6,567.6 L1549.8,566.1 L1549.9,564.6 L1549.9,564.5 M1552.8,538.0 L1553.0,536.6 L1553.2,535.1 L1553.3,533.6 L1553.5,532.1 L1553.7,530.6 L1553.9,529.1 L1554.1,527.6 L1554.3,526.2 M1555.4,551.7 L1555.4,552.9 L1555.5,554.4 L1555.5,555.9 L1555.6,557.4 L1555.7,558.9 L1555.7,560.4 L1555.8,561.9 L1555.8,563.4 L1555.9,564.9 L1556.0,566.3 L1556.0,567.8 L1556.1,569.3 L1556.1,569.3 M1557.2,595.9 L1557.2,597.2 L1557.3,598.7 L1557.3,600.2 L1557.4,601.7 L1557.4,603.2 L1557.5,604.7 L1557.6,606.2 L1557.6,607.7 L1557.7,609.2 L1557.8,610.7 L1557.8,612.2 L1557.9,613.6 M1559.0,640.7 L1559.1,642.1 L1559.2,643.6 L1559.2,645.1 L1559.3,646.6 L1559.4,648.1 L1559.4,649.6 L1559.5,651.1 L1559.6,652.6 L1559.7,654.1 L1559.7,655.6 L1559.8,657.1 L1559.8,658.3 M1561.1,684.5 L1561.2,685.7 L1561.3,687.2 L1561.3,688.7 L1561.4,690.2 L1561.5,691.7 L1561.6,693.2 L1561.7,694.7 L1561.7,696.2 L1561.8,697.7 L1561.9,699.2 L1562.0,700.7 L1562.1,702.2 M1563.7,729.3 L1563.7,730.8 L1563.8,732.3 L1563.9,733.8 L1564.0,735.3 L1564.1,736.8 L1564.2,738.3 L1564.3,739.8 L1564.4,741.3 L1564.5,742.8 L1564.6,744.3 L1564.7,745.8 L1564.8,747.0 M1566.7,773.2 L1566.8,774.4 L1566.9,775.9 L1567.0,777.4 L1567.1,778.9 L1567.2,780.4 L1567.3,781.9 L1567.5,783.4 L1567.6,784.9 L1567.7,786.4 L1567.8,787.9 L1568.0,789.4 L1568.0,790.5 M1570.3,816.7 L1570.5,817.9 L1570.6,819.4 L1570.7,820.9 L1570.9,822.4 L1571.0,823.9 L1571.2,825.3 L1571.3,826.8 L1571.5,828.3 L1571.6,829.8 L1571.8,831.3 L1571.9,832.8 L1572.1,834.3 M1575.0,861.3 L1575.2,862.7 L1575.3,864.2 L1575.5,865.7 L1575.7,867.2 L1575.9,868.7 L1576.0,870.2 L1576.2,871.7 L1576.4,873.2 L1576.6,874.7 L1576.8,876.2 L1576.9,877.6 L1577.1,879.1 L1577.1,879.2 M1580.8,906.3 L1580.9,907.4 L1581.1,908.9 L1581.3,910.4 L1581.5,911.9 L1581.8,913.3 L1582.0,914.8 L1582.2,916.3 L1582.4,917.8 L1582.6,919.3 L1582.9,920.8 L1583.1,922.2 L1583.3,923.7 L1583.3,924.0 M1587.6,950.0 L1587.8,951.3 L1588.0,952.8 L1588.3,954.3 L1588.5,955.7 L1588.8,957.2 L1589.1,958.7 L1589.3,960.2 L1589.6,961.6 L1589.9,963.1 L1590.1,964.6 L1590.4,966.1 L1590.7,967.5 M1595.8,993.9 L1596.0,994.9 L1596.3,996.4 L1596.6,997.8 L1596.9,999.3 L1597.2,1000.8 L1597.5,1002.2 L1597.8,1003.7 L1598.1,1005.1 L1598.5,1006.6 L1598.8,1008.1 L1599.1,1009.5 L1599.4,1011.0 L1599.5,1011.5 M1605.7,1038.0 L1605.9,1039.1 L1606.3,1040.5 L1606.7,1042.0 L1607.0,1043.4 L1607.4,1044.9 L1607.8,1046.3 L1608.1,1047.8 L1608.5,1049.2 L1608.9,1050.7 L1609.2,1052.1 L1609.6,1053.6 L1610.0,1055.0 L1610.1,1055.6 M1617.4,1082.1 L1617.8,1083.3 L1618.2,1084.7 L1618.6,1086.1 L1619.0,1087.6 L1619.5,1089.0 L1619.9,1090.4 L1620.3,1091.9 L1620.7,1093.3 L1621.2,1094.7 L1621.6,1096.1 L1622.0,1097.6 L1622.5,1099.0 L1622.7,1099.8 M1631.4,1126.5 L1631.9,1127.9 L1632.4,1129.3 L1632.8,1130.7 L1633.3,1132.1 L1633.8,1133.5 L1634.3,1134.9 L1634.8,1136.3 L1635.3,1137.7 L1635.8,1139.1 L1636.3,1140.5 L1636.8,1142.0 L1637.3,1143.4 L1637.6,1144.1 M1647.7,1170.5 L1648.2,1171.8 L1648.7,1173.2 L1649.3,1174.6 L1649.9,1176.0 L1650.4,1177.4 L1651.0,1178.7 L1651.6,1180.1 L1652.2,1181.5 L1652.7,1182.9 L1653.3,1184.3 L1653.9,1185.7 L1654.5,1187.1 L1654.9,1188.0 M1666.6,1214.4 L1667.1,1215.5 L1667.8,1216.8 L1668.4,1218.2 L1669.0,1219.6 L1669.7,1220.9 L1670.3,1222.3 L1671.0,1223.7 L1671.6,1225.0 L1672.3,1226.4 L1673.0,1227.7 L1673.6,1229.1 L1674.3,1230.5 L1675.0,1231.8 L1675.1,1232.0"/>
<path stroke="#ff0000" stroke-width="6.0" d="M1453.0,1065.2 L1454.3,1063.5 L1455.5,1061.7 L1456.7,1060.0 L1457.8,1058.2 L1458.8,1056.5 L1459.8,1054.7 L1460.7,1053.0 L1461.6,1051.2 L1462.4,1049.4 L1463.2,1047.7 L1464.0,1045.9 L1464.8,1044.1 L1465.5,1042.4 L1466.3,1040.6 L1467.0,1038.8 L1467.8,1037.1 L1468.6,1035.3 L1469.4,1033.5 L1470.2,1031.7 L1471.0,1029.9 L1471.9,1028.2 L1472.8,1026.4 L1473.7,1024.6 L1474.6,1022.8 L1475.5,1021.0 L1476.4,1019.2 L1477.4,1017.4 L1478.3,1015.6 L1479.2,1013.8 L1480.2,1012.0 L1481.1,1010.2 L1482.0,1008.4 L1482.9,1006.6 L1483.8,1004.8 L1484.8,1003.0 L1485.7,1001.2 L1486.6,999.4 L1487.5,997.6 L1488.4,995.7 L1489.3,993.9 L1490.2,992.1 L1491.1,990.3 L1492.0,988.5 L1492.8,986.6 L1493.7,984.8 L1494.6,983.0 L1495.4,981.1 L1496.3,979.3 L1497.1,977.5 L1497.9,975.6 L1498.8,973.8 L1499.6,972.0 L1500.3,970.1 L1501.1,968.3 L1501.9,966.4 L1502.6,964.6 L1503.3,962.7 L1504.0,960.9 L1504.7,959.0 L1505.4,957.2 L1506.0,955.3 L1506.7,953.5 L1507.3,951.6 L1507.9,949.8 L1508.5,947.9 L1509.1,946.0 L1509.7,944.2 L1510.4,942.3 L1511.0,940.4 L1511.6,938.6 L1512.3,936.7 L1512.9,934.8 L1513.6,933.0 L1514.2,931.1 L1514.9,929.2 L1515.6,927.3 L1516.2,925.5 L1516.9,923.6 L1517.6,921.7 L1518.2,919.8 L1518.9,917.9 L1519.5,916.1 L1520.2,914.2 L1520.8,912.3 L1521.4,910.4 L1522.1,908.5 L1522.7,906.6 L1523.3,904.7 L1523.9,902.8 L1524.5,900.9 L1525.1,899.0 L1525.7,897.1 L1526.3,895.2 L1526.8,893.3 L1527.4,891.4 L1528.0,889.5 L1528.5,887.6 L1529.1,885.7 L1529.6,883.8 L1530.2,881.9 L1530.7,880.0 L1531.3,878.1 L1531.8,876.2 L1532.3,874.3 L1532.8,872.3 L1533.4,870.4 L1533.9,868.5 L1534.4,866.6 L1534.9,864.7 L1535.4,862.8 L1535.9,860.8 L1536.4,858.9 L1536.8,857.0 L1537.3,855.1 L1537.8,853.1 L1538.3,851.2 L1538.7,849.3 L1539.2,847.3 L1539.6,845.4 L1540.1,843.5 L1540.6,841.6 L1541.0,839.6 L1541.4,837.7 L1541.9,835.7 L1542.3,833.8 L1542.7,831.9 L1543.2,829.9 L1543.6,828.0 L1544.0,826.1 L1544.4,824.1 L1544.8,822.2 L1545.2,820.2 L1545.6,818.3 L1546.0,816.3 L1546.4,814.4 L1546.8,812.4 L1547.2,810.5 L1547.6,808.5 L1548.0,806.6 L1548.3,804.6 L1548.7,802.7 L1549.1,800.7 L1549.4,798.8 L1549.8,796.8 L1550.2,794.9 L1550.5,792.9 L1550.9,791.0 L1551.2,789.0 L1551.6,787.0 L1551.9,785.1 L1552.3,783.1 L1552.6,781.2 L1553.0,779.2 L1553.3,777.2 L1553.6,775.3 L1554.0,773.3 L1554.3,771.3 L1554.6,769.4 L1554.9,767.4 L1555.3,765.4 L1555.6,763.5 L1555.9,761.5 L1556.2,759.5 L1556.5,757.6 L1556.8,755.6 L1557.1,753.6 L1557.5,751.7 L1557.8,749.7 L1558.1,747.7 L1558.4,745.7 L1558.6,743.8 L1558.9,741.8 L1559.2,739.8 L1559.5,737.8 L1559.8,735.8 L1560.1,733.9 L1560.4,731.9 L1560.7,729.9 L1560.9,727.9 L1561.2,726.0 L1561.5,724.0 L1561.8,722.0 L1562.0,720.0 L1562.3,718.0 L1562.6,716.0 L1562.8,714.1 L1563.1,712.1 L1563.3,710.1 L1563.6,708.1 L1563.9,706.1 L1564.1,704.1 L1564.4,702.2 L1564.6,700.2 L1564.8,698.2 L1565.1,696.2 L1565.3,694.2 L1565.6,692.2 L1565.8,690.2 L1566.1,688.2 L1566.3,686.2 L1566.5,684.3 L1566.7,682.3 L1567.0,680.3 L1567.2,678.3 L1567.4,676.3 L1567.7,674.3 L1567.9,672.3 L1568.1,670.3 L1568.3,668.3 L1568.5,666.3 L1568.7,664.3 L1568.9,662.3 L1569.2,660.4 L1569.4,658.4 L1569.6,656.4 L1569.8,654.4 L1570.0,652.4 L1570.2,650.4 L1570.4,648.4 L1570.6,646.4 L1570.8,644.4 L1571.0,642.4 L1571.2,640.4 L1571.4,638.4 L1571.5,636.4 L1571.7,634.4 L1571.9,632.4 L1572.1,630.4 L1572.3,628.4 L1572.5,626.4 L1572.6,624.4 L1572.8,622.4 L1573.0,620.4 L1573.2,618.4 L1573.3,616.4 L1573.5,614.4 L1573.7,612.4 L1573.8,610.4 L1574.0,608.4 L1574.2,606.5 L1574.3,604.5 L1574.5,602.5 L1574.7,600.5 L1574.8,598.5 L1575.0,596.5 L1575.1,594.5 L1575.3,592.5 L1575.4,590.5 L1575.6,588.5 L1575.7,586.5 L1575.9,584.5 L1576.0,582.5 L1576.2,580.5 L1576.3,578.5 L1576.5,576.5 L1576.6,574.5 L1576.8,572.5 L1576.9,570.5 L1577.0,568.5 L1577.2,566.5 L1577.3,564.5 L1577.4,562.5 L1577.6,560.5 L1577.7,558.5 L1577.8,556.5 L1577.9,554.5 L1578.1,552.5 L1578.2,550.4 L1578.3,548.4 L1578.4,546.4 L1578.6,544.4 L1578.7,542.4 L1578.8,540.4 L1578.9,538.4 L1579.0,536.4 L1579.2,534.4 L1579.3,532.4 L1579.4,530.4 L1579.5,528.4 L1579.6,526.4 L1579.7,524.4 L1579.8,522.4 L1579.9,520.4 L1580.0,518.4 L1580.1,516.4 L1580.2,514.4 L1580.3,512.4 L1580.4,510.4 L1580.5,508.4 L1580.6,506.4 L1580.7,504.4 L1580.8,502.4 L1580.9,500.4 L1581.0,498.4 L1581.1,496.4 L1581.2,494.4 L1581.3,492.4 L1581.4,490.4 L1581.5,488.4 L1581.6,486.4 L1581.7,484.4 L1581.8,482.4 L1581.8,480.4 L1581.9,478.4 L1582.0,476.4 L1582.1,474.3 L1582.2,472.3 L1582.3,470.3 L1582.3,468.3 L1582.4,466.3 L1582.5,464.3 L1582.6,462.3 L1582.6,460.3 L1582.7,458.3 L1582.8,456.3 L1582.9,454.3 L1582.9,452.3 L1583.0,450.3 L1583.1,448.3 L1583.2,446.3 L1583.2,444.3 L1583.3,442.3 L1583.4,440.3 L1583.4,438.3 L1583.5,436.3 L1583.6,434.3 L1583.6,432.3 L1583.7,430.3 L1583.8,428.3 L1583.8,426.3 L1583.9,424.3 L1583.9,422.3 L1584.0,420.2 L1584.1,418.2 L1584.1,416.2 L1584.2,414.2 L1584.2,412.2 L1584.3,410.2 L1584.4,408.2 L1584.4,406.2 L1584.5,404.2 L1584.5,402.2 L1584.6,400.2 L1584.6,398.2 L1584.7,396.2 L1584.7,394.2 L1584.8,392.2 L1584.8,390.2 L1584.9,388.2 L1584.9,386.2 L1585.0,384.2 L1585.0,382.2 L1585.1,380.2 L1585.1,378.2 L1585.2,376.2 L1585.2,374.2 L1585.3,372.2 L1585.3,370.2 L1585.4,368.2 L1585.4,366.2 L1585.5,364.2 L1585.5,362.2 L1585.6,360.2 L1585.6,358.1 L1585.7,356.1 L1585.7,354.1 L1585.7,352.1 L1585.8,350.1 L1585.8,348.1 L1585.9,346.1 L1585.9,344.1 L1586.0,342.1 L1586.0,340.1 L1586.0,338.1 L1586.1,336.1 L1586.1,334.1 L1586.2,332.1 L1586.2,330.1 L1586.2,328.1 L1586.3,326.1 L1586.3,324.1 L1586.4,322.1 L1586.4,320.1 L1586.4,318.1 L1586.5,316.1 L1586.5,314.1 L1586.6,312.1 L1586.6,310.1 L1586.6,308.1 L1586.7,306.1 L1586.7,304.1 L1586.7,302.1 L1586.8,300.1 L1586.8,298.1 L1586.9,296.1 L1586.9,294.1 L1586.9,292.1 L1587.0,290.1 L1587.0,288.1 L1587.0,286.1 L1587.1,284.1 L1587.1,282.1 L1587.2,280.1 L1587.2,278.1 L1587.2,276.1 L1587.3,274.1 L1587.3,272.1 L1587.4,270.1 L1587.4,268.1 L1587.4,266.1 L1587.5,264.1 L1587.5,262.1 L1587.5,260.1 L1587.6,258.2 L1587.6,256.2 L1587.7,254.2 L1587.7,252.2 L1587.7,250.2 L1587.8,248.2 L1587.8,246.2 L1587.9,244.2 L1587.9,242.2 L1587.9,240.2 L1588.0,238.2 L1588.0,236.2 L1588.1,234.2 L1588.1,232.2 L1588.2,230.2 L1588.2,228.2 L1588.2,226.2 L1588.3,224.2 L1588.3,222.2 L1588.4,220.2 L1588.4,218.2 L1588.5,216.3 L1588.5,214.3 L1588.5,212.3 L1588.6,210.3 L1588.6,208.3 L1588.7,206.3 L1588.7,204.3 L1588.8,202.3 L1588.8,200.3 L1588.9,198.3 L1588.9,196.3 L1589.0,194.3 L1589.0,192.3 L1589.1,190.4 L1589.1,188.4 L1589.2,186.4 L1589.2,184.4 L1589.3,182.4 L1589.3,180.4 L1589.4,178.4 L1589.4,176.4 L1589.5,174.4 L1589.5,172.4 L1589.6,170.5 L1589.7,168.5 L1589.7,166.5 L1589.8,164.5 L1589.8,162.5 L1589.9,160.5 L1589.9,158.5 L1590.0,156.7 L1590.9,158.7 L1591.7,160.7 L1592.5,162.6 L1593.1,164.6 L1593.7,166.6 L1594.2,168.6 L1594.6,170.5 L1595.0,172.5 L1595.3,174.5 L1595.6,176.5 L1595.8,178.5 L1596.0,180.4 L1596.2,182.4 L1596.3,184.4 L1596.5,186.4 L1596.6,188.3 L1596.7,190.3 L1596.8,192.3 L1596.9,194.3 L1597.0,196.3 L1597.1,198.3 L1597.1,200.2 L1597.2,202.2 L1597.3,204.2 L1597.4,206.2 L1597.4,208.2 L1597.5,210.2 L1597.6,212.1 L1597.6,214.1 L1597.7,216.1 L1597.7,218.1 L1597.8,220.1 L1597.8,222.1 L1597.9,224.0 L1597.9,226.0 L1598.0,228.0 L1598.0,230.0 L1598.1,232.0 L1598.1,234.0 L1598.2,236.0 L1598.2,238.0 L1598.3,239.9 L1598.3,241.9 L1598.4,243.9 L1598.4,245.9 L1598.5,247.9 L1598.5,249.9 L1598.5,251.9 L1598.6,253.9 L1598.6,255.8 L1598.7,257.8 L1598.7,259.8 L1598.8,261.8 L1598.8,263.8 L1598.9,265.8 L1598.9,267.8 L1598.9,269.8 L1599.0,271.8 L1599.0,273.8 L1599.1,275.7 L1599.1,277.7 L1599.2,279.7 L1599.2,281.7 L1599.3,283.7 L1599.3,285.7 L1599.3,287.7 L1599.4,289.7 L1599.4,291.7 L1599.5,293.7 L1599.5,295.7 L1599.6,297.7 L1599.6,299.7 L1599.7,301.7 L1599.7,303.6 L1599.7,305.6 L1599.8,307.6 L1599.8,309.6 L1599.9,311.6 L1599.9,313.6 L1600.0,315.6 L1600.0,317.6 L1600.1,319.6 L1600.1,321.6 L1600.1,323.6 L1600.2,325.6 L1600.2,327.6 L1600.3,329.6 L1600.3,331.6 L1600.4,333.6 L1600.4,335.6 L1600.5,337.6 L1600.5,339.6 L1600.6,341.6 L1600.6,343.6 L1600.7,345.6 L1600.7,347.6 L1600.8,349.6 L1600.8,351.6 L1600.8,353.5 L1600.9,355.5 L1600.9,357.5 L1601.0,359.5 L1601.0,361.5 L1601.1,363.5 L1601.1,365.5 L1601.2,367.5 L1601.2,369.5 L1601.3,371.5 L1601.3,373.5 L1601.4,375.5 L1601.4,377.5 L1601.5,379.5 L1601.6,381.5 L1601.6,383.5 L1601.7,385.5 L1601.7,387.5 L1601.8,389.5 L1601.8,391.5 L1601.9,393.5 L1601.9,395.5 L1602.0,397.5 L1602.0,399.5 L1602.1,401.5 L1602.2,403.5 L1602.2,405.5 L1602.3,407.5 L1602.3,409.5 L1602.4,411.5 L1602.4,413.5 L1602.5,415.5 L1602.6,417.5 L1602.6,419.5 L1602.7,421.5 L1602.7,423.5 L1602.8,425.5 L1602.9,427.5 L1602.9,429.5 L1603.0,431.5 L1603.1,433.5 L1603.1,435.5 L1603.2,437.5 L1603.3,439.5 L1603.3,441.5 L1603.4,443.5 L1603.5,445.5 L1603.5,447.5 L1603.6,449.5 L1603.7,451.5 L1603.7,453.5 L1603.8,455.5 L1603.9,457.5 L1604.0,459.5 L1604.0,461.5 L1604.1,463.5 L1604.2,465.5 L1604.3,467.5 L1604.3,469.5 L1604.4,471.5 L1604.5,473.5 L1604.6,475.6 L1604.7,477.6 L1604.7,479.6 L1604.8,481.6 L1604.9,483.6 L1605.0,485.6 L1605.1,487.6 L1605.1,489.6 L1605.2,491.6 L1605.3,493.6 L1605.4,495.6 L1605.5,497.6 L1605.6,499.6 L1605.7,501.6 L1605.8,503.6 L1605.9,505.6 L1606.0,507.6 L1606.0,509.6 L1606.1,511.6 L1606.2,513.6 L1606.3,515.6 L1606.4,517.6 L1606.5,519.6 L1606.6,521.6 L1606.7,523.6 L1606.8,525.6 L1606.9,527.6 L1607.0,529.6 L1607.1,531.6 L1607.3,533.6 L1607.4,535.6 L1607.5,537.6 L1607.6,539.6 L1607.7,541.6 L1607.8,543.6 L1607.9,545.6 L1608.0,547.6 L1608.1,549.6 L1608.3,551.6 L1608.4,553.6 L1608.5,555.6 L1608.6,557.6 L1608.7,559.6 L1608.9,561.6 L1609.0,563.6 L1609.1,565.6 L1609.2,567.6 L1609.4,569.6 L1609.5,571.5 L1609.6,573.5 L1609.7,575.5 L1609.9,577.5 L1610.0,579.5 L1610.1,581.5 L1610.3,583.5 L1610.4,585.5 L1610.6,587.5 L1610.7,589.5 L1610.8,591.5 L1611.0,593.5 L1611.1,595.5 L1611.3,597.5 L1611.4,599.5 L1611.6,601.5 L1611.7,603.5 L1611.9,605.5 L1612.0,607.5 L1612.2,609.5 L1612.3,611.5 L1612.5,613.5 L1612.6,615.5 L1612.8,617.5 L1613.0,619.5 L1613.1,621.5 L1613.3,623.5 L1613.5,625.5 L1613.6,627.4 L1613.8,629.4 L1614.0,631.4 L1614.1,633.4 L1614.3,635.4 L1614.5,637.4 L1614.7,639.4 L1614.8,641.4 L1615.0,643.4 L1615.2,645.4 L1615.4,647.4 L1615.6,649.4 L1615.8,651.4 L1616.0,653.4 L1616.1,655.3 L1616.3,657.3 L1616.5,659.3 L1616.7,661.3 L1616.9,663.3 L1617.1,665.3 L1617.3,667.3 L1617.5,669.3 L1617.7,671.3 L1618.0,673.3 L1618.2,675.2 L1618.4,677.2 L1618.6,679.2 L1618.8,681.2 L1619.0,683.2 L1619.2,685.2 L1619.5,687.2 L1619.7,689.2 L1619.9,691.1 L1620.2,693.1 L1620.4,695.1 L1620.6,697.1 L1620.9,699.1 L1621.1,701.1 L1621.3,703.0 L1621.6,705.0 L1621.8,707.0 L1622.1,709.0 L1622.3,711.0 L1622.6,713.0 L1622.8,714.9 L1623.1,716.9 L1623.4,718.9 L1623.6,720.9 L1623.9,722.9 L1624.1,724.9 L1624.4,726.8 L1624.7,728.8 L1625.0,730.8 L1625.2,732.8 L1625.5,734.7 L1625.8,736.7 L1626.1,738.7 L1626.4,740.7 L1626.7,742.7 L1627.0,744.6 L1627.3,746.6 L1627.6,748.6 L1627.9,750.6 L1628.2,752.5 L1628.5,754.5 L1628.8,756.5 L1629.1,758.5 L1629.4,760.4 L1629.7,762.4 L1630.0,764.4 L1630.3,766.3 L1630.6,768.3 L1630.9,770.3 L1631.3,772.2 L1631.6,774.2 L1631.9,776.2 L1632.2,778.2 L1632.5,780.1 L1632.8,782.1 L1633.2,784.1 L1633.5,786.0 L1633.8,788.0 L1634.1,790.0 L1634.4,791.9 L1634.7,793.9 L1635.0,795.8 L1635.4,797.8 L1635.7,799.8 L1636.0,801.7 L1636.3,803.7 L1636.6,805.7 L1636.9,807.6 L1637.2,809.6 L1637.5,811.5 L1637.8,813.5 L1638.1,815.4 L1638.4,817.4 L1638.7,819.4 L1639.0,821.3 L1639.3,823.3 L1639.6,825.2 L1639.9,827.2 L1640.2,829.1 L1640.4,831.1 L1640.7,833.0 L1641.0,835.0 L1641.3,836.9 L1641.6,838.9 L1641.8,840.8 L1642.1,842.8 L1642.4,844.7 L1642.8,846.7 L1643.1,848.6 L1643.5,850.6 L1643.9,852.5 L1644.3,854.5 L1644.8,856.4 L1645.3,858.4 L1645.8,860.3 L1646.4,862.3 L1647.1,864.2 L1647.7,866.1 L1648.4,868.1 L1649.1,870.0 L1649.8,872.0 L1650.5,873.9 L1651.1,875.8 L1651.7,877.8 L1652.2,879.7 L1652.7,881.6 L1653.2,883.6 L1653.7,885.5 L1654.2,887.4 L1654.6,889.4 L1655.1,891.3 L1655.5,893.2 L1656.0,895.2 L1656.5,897.1 L1657.1,899.0 L1657.7,900.9 L1658.3,902.8 L1659.0,904.8 L1659.7,906.7 L1660.4,908.6 L1661.0,910.5 L1661.6,912.4 L1662.1,914.3 L1662.6,916.2 L1663.1,918.1 L1663.5,920.0 L1663.9,921.9 L1664.4,923.8 L1664.8,925.7 L1665.3,927.6 L1665.9,929.5 L1666.6,931.4 L1667.3,933.2 L1668.1,935.1 L1669.1,937.0 L1670.1,938.8 L1671.1,940.7 L1672.1,942.6 L1673.0,944.4 L1673.9,946.3 L1674.6,948.1 L1675.2,950.0 L1675.8,951.8 L1676.3,953.6 L1676.9,955.5 L1677.4,957.3 L1678.0,959.1 L1678.6,960.9 L1679.3,962.7 L1680.0,964.5 L1680.7,966.4 L1681.5,968.1 L1682.3,969.9 L1683.2,971.7 L1684.0,973.5 L1685.0,975.3 L1685.9,977.0 L1686.9,978.8 L1687.9,980.6 L1688.9,982.3 L1689.9,984.1 L1691.0,985.8 L1692.1,987.5 L1693.2,989.3 L1694.3,991.0 L1695.4,992.7 L1696.5,994.4 L1697.6,996.1 L1698.8,997.8 L1700.0,999.4 L1701.2,1001.1 L1702.4,1002.7 L1703.6,1004.3 L1704.8,1005.8 L1706.1,1007.4 L1707.4,1008.9 L1708.7,1010.3 L1710.0,1011.8 L1711.3,1013.2 L1712.7,1014.5 L1714.0,1015.7 L1715.4,1016.8 L1716.8,1017.9 L1718.3,1019.4 L1719.7,1020.9 L1721.1,1022.2 L1722.4,1022.9 L1723.8,1022.7 L1725.1,1022.2 L1726.4,1022.2 L1727.6,1023.3 L1728.9,1025.1 L1730.1,1027.1 L1731.4,1029.1 L1732.6,1030.6 L1733.8,1031.1 L1735.1,1030.4 L1736.3,1029.0 L1737.6,1027.7 L1738.9,1027.5 L1740.2,1028.5 L1741.5,1030.1 L1742.9,1031.5 L1744.4,1031.8 L1745.9,1031.2 L1747.4,1030.2 L1749.1,1029.3 L1750.8,1029.2 L1752.5,1029.7 L1754.2,1030.2 L1755.7,1030.0 L1757.1,1028.8 L1758.3,1027.0 L1759.5,1025.2 L1760.8,1023.9 L1762.2,1023.6 L1763.6,1024.0 L1765.1,1024.3 L1766.5,1023.9 L1767.9,1022.9 L1769.1,1021.3 L1770.4,1019.5 L1771.5,1017.4 L1772.7,1015.4 L1773.8,1013.5 L1774.9,1011.8 L1776.0,1010.2 L1777.1,1008.5 L1778.2,1006.9 L1779.3,1005.3 L1780.4,1003.6 L1781.5,1002.0 L1782.6,1000.3 L1783.7,998.6 L1784.8,996.8 L1785.8,995.1 L1786.8,993.3 L1787.7,991.6 L1788.5,989.8 L1789.4,988.0 L1790.1,986.2 L1790.7,984.3 L1791.3,982.5 L1791.8,980.6 L1792.3,978.8 L1792.8,976.9 L1793.2,975.0 L1793.6,973.1 L1794.0,971.3 L1794.5,969.3 L1795.0,967.4 L1795.5,965.5 L1796.0,963.6 L1796.6,961.7 L1797.2,959.8 L1797.8,957.8 L1798.4,955.9 L1798.9,954.0 L1799.5,952.0 L1800.1,950.1 L1800.6,948.1 L1801.1,946.2 L1801.7,944.3 L1802.2,942.3 L1802.7,940.4 L1803.2,938.4 L1803.6,936.5 L1804.1,934.5 L1804.6,932.6 L1805.0,930.7 L1805.5,928.7 L1805.9,926.8 L1806.3,924.8 L1806.7,922.8 L1807.1,920.9 L1807.5,918.9 L1807.9,917.0 L1808.3,915.0 L1808.7,913.1 L1809.1,911.1 L1809.4,909.1 L1809.8,907.2 L1810.1,905.2 L1810.5,903.3 L1810.8,901.3 L1811.1,899.3 L1811.4,897.4 L1811.7,895.4 L1812.0,893.4 L1812.3,891.5 L1812.6,889.5 L1812.9,887.5 L1813.2,885.5 L1813.5,883.6 L1813.7,881.6 L1814.0,879.6 L1814.3,877.6 L1814.5,875.7 L1814.8,873.7 L1815.0,871.7 L1815.3,869.7 L1815.5,867.8 L1815.7,865.8 L1816.0,863.8 L1816.2,861.8 L1816.4,859.8 L1816.6,857.8 L1816.8,855.9 L1817.0,853.9 L1817.2,851.9 L1817.4,849.9 L1817.6,847.9 L1817.8,845.9 L1818.0,843.9 L1818.2,842.0 L1818.4,840.0 L1818.6,838.0 L1818.8,836.0 L1818.9,834.0 L1819.1,832.0 L1819.3,830.0 L1819.5,828.0 L1819.6,826.0 L1819.8,824.0 L1819.9,822.0 L1820.1,820.0 L1820.3,818.0 L1820.4,816.1 L1820.6,814.1 L1820.7,812.1 L1820.8,810.1 L1821.0,808.1 L1821.1,806.1 L1821.3,804.1 L1821.4,802.1 L1821.5,800.1 L1821.7,798.1 L1821.8,796.1 L1821.9,794.1 L1822.0,792.1 L1822.1,790.1 L1822.3,788.1 L1822.4,786.1 L1822.5,784.1 L1822.6,782.1 L1822.7,780.1 L1822.8,778.1 L1822.9,776.1 L1823.0,774.1 L1823.1,772.1 L1823.2,770.1 L1823.3,768.1 L1823.4,766.1 L1823.5,764.1 L1823.6,762.1 L1823.7,760.1 L1823.8,758.1 L1823.9,756.1 L1824.0,754.1 L1824.1,752.1 L1824.2,750.0 L1824.3,748.0 L1824.4,746.0 L1824.4,744.0 L1824.5,742.0 L1824.6,740.0 L1824.7,738.0 L1824.8,736.0 L1824.9,734.0 L1824.9,732.0 L1825.0,730.0 L1825.1,728.0 L1825.2,726.0 L1825.2,724.0 L1825.3,722.0 L1825.4,720.0 L1825.5,718.0 L1825.5,716.0 L1825.6,714.0 L1825.7,712.0 L1825.8,710.0 L1825.8,708.0 L1825.9,706.0 L1826.0,704.0 L1826.1,702.0 L1826.1,700.0 L1826.2,698.0 L1826.3,696.0 L1826.3,694.0 L1826.4,692.0 L1826.5,690.0 L1826.5,688.0 L1826.6,686.0 L1826.7,684.0 L1826.7,682.0 L1826.8,680.0 L1826.9,678.0 L1826.9,676.0 L1827.0,674.0 L1827.1,672.0 L1827.1,670.0 L1827.2,668.0 L1827.2,666.0 L1827.3,664.0 L1827.4,662.0 L1827.4,660.0 L1827.5,658.0 L1827.5,656.0 L1827.6,654.0 L1827.7,652.0 L1827.7,650.0 L1827.8,648.0 L1827.8,646.0 L1827.9,644.0 L1828.0,642.0 L1828.0,640.0 L1828.1,638.0 L1828.1,636.0 L1828.2,634.0 L1828.2,632.0 L1828.3,630.0 L1828.3,628.0 L1828.4,626.0 L1828.4,624.0 L1828.5,622.1 L1828.5,620.1 L1828.6,618.1 L1828.6,616.1 L1828.7,614.1 L1828.7,612.1 L1828.8,610.1 L1828.8,608.1 L1828.9,606.1 L1828.9,604.1 L1829.0,602.1 L1829.0,600.1 L1829.1,598.1 L1829.1,596.1 L1829.2,594.1 L1829.2,592.1 L1829.3,590.1 L1829.3,588.1 L1829.4,586.1 L1829.4,584.1 L1829.4,582.1 L1829.5,580.1 L1829.5,578.1 L1829.6,576.1 L1829.6,574.1 L1829.7,572.1 L1829.7,570.1 L1829.7,568.1 L1829.8,566.1 L1829.8,564.1 L1829.9,562.1 L1829.9,560.1 L1829.9,558.1 L1830.0,556.1 L1830.0,554.1 L1830.1,552.1 L1830.1,550.1 L1830.1,548.1 L1830.2,546.1 L1830.2,544.1 L1830.2,542.1 L1830.3,540.1 L1830.3,538.2 L1830.4,536.2 L1830.4,534.2 L1830.4,532.2 L1830.5,530.2 L1830.5,528.2 L1830.5,526.2 L1830.6,524.2 L1830.6,522.2 L1830.6,520.2 L1830.7,518.2 L1830.7,516.2 L1830.7,514.2 L1830.8,512.2 L1830.8,510.2 L1830.8,508.2 L1830.9,506.2 L1830.9,504.2 L1830.9,502.2 L1831.0,500.2 L1831.0,498.2 L1831.0,496.2 L1831.1,494.2 L1831.1,492.2 L1831.1,490.2 L1831.2,488.2 L1831.2,486.2 L1831.2,484.2 L1831.3,482.2 L1831.3,480.2 L1831.3,478.2 L1831.3,476.2 L1831.4,474.2 L1831.4,472.2 L1831.4,470.2 L1831.5,468.2 L1831.5,466.2 L1831.5,464.2 L1831.5,462.2 L1831.6,460.2 L1831.6,458.2 L1831.6,456.2 L1831.7,454.2 L1831.7,452.2 L1831.7,450.2 L1831.7,448.2 L1831.8,446.2 L1831.8,444.2 L1831.8,442.2 L1831.8,440.2 L1831.9,438.1 L1831.9,436.1 L1831.9,434.1 L1831.9,432.1 L1832.0,430.1 L1832.0,428.1 L1832.0,429.0 L1832.1,431.0 L1832.2,433.0 L1832.2,435.0 L1832.3,437.0 L1832.4,438.9 L1832.4,440.9 L1832.5,442.9 L1832.5,444.9 L1832.6,446.9 L1832.7,448.9 L1832.7,450.9 L1832.8,452.9 L1832.8,454.9 L1832.9,456.9 L1832.9,458.9 L1833.0,460.9 L1833.0,462.9 L1833.1,464.8 L1833.2,466.8 L1833.2,468.8 L1833.3,470.8 L1833.3,472.8 L1833.4,474.8 L1833.4,476.8 L1833.5,478.8 L1833.5,480.8 L1833.6,482.8 L1833.6,484.8 L1833.7,486.8 L1833.7,488.8 L1833.8,490.8 L1833.8,492.8 L1833.9,494.8 L1833.9,496.8 L1833.9,498.8 L1834.0,500.8 L1834.0,502.8 L1834.1,504.8 L1834.1,506.8 L1834.2,508.7 L1834.2,510.7 L1834.3,512.7 L1834.3,514.7 L1834.4,516.7 L1834.4,518.7 L1834.4,520.7 L1834.5,522.7 L1834.5,524.7 L1834.6,526.7 L1834.6,528.7 L1834.7,530.7 L1834.7,532.7 L1834.7,534.7 L1834.8,536.7 L1834.8,538.7 L1834.9,540.7 L1834.9,542.7 L1835.0,544.7 L1835.0,546.7 L1835.0,548.7 L1835.1,550.7 L1835.1,552.7 L1835.2,554.7 L1835.2,556.7 L1835.3,558.7 L1835.3,560.7 L1835.3,562.7 L1835.4,564.7 L1835.4,566.7 L1835.5,568.7 L1835.5,570.7 L1835.6,572.7 L1835.6,574.7 L1835.7,576.7 L1835.7,578.7 L1835.7,580.7 L1835.8,582.7 L1835.8,584.7 L1835.9,586.7 L1835.9,588.7 L1836.0,590.7 L1836.0,592.7 L1836.1,594.7 L1836.1,596.7 L1836.2,598.7 L1836.2,600.7 L1836.3,602.7 L1836.3,604.7 L1836.4,606.7 L1836.4,608.8 L1836.5,610.8 L1836.5,612.8 L1836.6,614.8 L1836.6,616.8 L1836.7,618.8 L1836.7,620.8 L1836.8,622.8 L1836.8,624.8 L1836.9,626.8 L1836.9,628.8 L1837.0,630.8 L1837.0,632.8 L1837.1,634.8 L1837.2,636.8 L1837.2,638.8 L1837.3,640.8 L1837.3,642.8 L1837.4,644.8 L1837.5,646.8 L1837.5,648.8 L1837.6,650.8 L1837.6,652.8 L1837.7,654.8 L1837.8,656.8 L1837.8,658.8 L1837.9,660.8 L1838.0,662.8 L1838.0,664.8 L1838.1,666.8 L1838.2,668.8 L1838.2,670.8 L1838.3,672.8 L1838.4,674.8 L1838.5,676.8 L1838.5,678.8 L1838.6,680.8 L1838.7,682.9 L1838.8,684.9 L1838.8,686.9 L1838.9,688.9 L1839.0,690.9 L1839.1,692.9 L1839.2,694.9 L1839.2,696.9 L1839.3,698.9 L1839.4,700.9 L1839.5,702.9 L1839.6,704.9 L1839.7,706.9 L1839.8,708.9 L1839.8,710.9 L1839.9,712.9 L1840.0,714.9 L1840.1,716.9 L1840.2,718.9 L1840.3,720.9 L1840.4,722.9 L1840.5,724.9 L1840.6,726.9 L1840.7,728.9 L1840.8,730.9 L1840.9,732.9 L1841.0,734.9 L1841.1,736.9 L1841.2,738.9 L1841.3,740.9 L1841.4,742.9 L1841.5,744.9 L1841.6,746.9 L1841.7,748.9 L1841.8,750.9 L1841.9,752.9 L1842.0,754.9 L1842.1,756.9 L1842.2,758.9 L1842.4,760.9 L1842.5,762.9 L1842.6,764.9 L1842.7,766.9 L1842.8,768.9 L1842.9,770.9 L1843.0,772.9 L1843.1,774.9 L1843.3,776.9 L1843.4,778.9 L1843.5,780.9 L1843.6,782.9 L1843.7,784.9 L1843.8,786.9 L1844.0,788.9 L1844.1,790.9 L1844.2,792.9 L1844.3,794.9 L1844.4,796.9 L1844.6,798.9 L1844.7,800.9 L1844.8,802.9 L1844.9,804.9 L1845.0,806.9 L1845.2,808.9 L1845.3,810.9 L1845.4,812.9 L1845.5,814.9 L1845.7,816.9 L1845.8,818.9 L1845.9,820.9 L1846.0,822.9 L1846.2,824.9 L1846.3,826.9 L1846.4,828.9 L1846.5,830.9 L1846.7,832.9 L1846.8,834.9 L1846.9,836.9 L1847.0,838.9 L1847.2,840.9 L1847.3,842.9 L1847.4,844.9 L1847.6,846.9 L1847.7,848.9 L1847.8,850.9 L1848.0,852.9 L1848.1,854.9 L1848.2,856.9 L1848.4,858.8 L1848.5,860.8 L1848.6,862.8 L1848.8,864.8 L1848.9,866.8 L1849.1,868.8 L1849.2,870.8 L1849.4,872.8 L1849.5,874.8 L1849.7,876.8 L1849.8,878.8 L1850.0,880.8 L1850.1,882.8 L1850.3,884.8 L1850.4,886.8 L1850.6,888.7 L1850.7,890.7 L1850.9,892.7 L1851.0,894.7 L1851.2,896.7 L1851.4,898.7 L1851.5,900.7 L1851.7,902.7 L1851.9,904.7 L1852.0,906.7 L1852.2,908.7 L1852.4,910.6 L1852.6,912.6 L1852.7,914.6 L1852.9,916.6 L1853.1,918.6 L1853.3,920.6 L1853.5,922.6 L1853.6,924.6 L1853.8,926.5 L1854.0,928.5 L1854.2,930.5 L1854.4,932.5 L1854.6,934.5 L1854.8,936.5 L1855.0,938.5 L1855.2,940.5 L1855.4,942.4 L1855.6,944.4 L1855.9,946.4 L1856.1,948.4 L1856.3,950.4 L1856.5,952.4 L1856.7,954.4 L1856.9,956.3 L1857.2,958.3 L1857.4,960.3 L1857.6,962.3 L1857.9,964.3 L1858.1,966.3 L1858.3,968.2 L1858.6,970.2 L1858.8,972.2 L1859.0,974.2 L1859.3,976.2 L1859.5,978.1 L1859.8,980.1 L1860.0,982.1 L1860.3,984.1 L1860.5,986.1 L1860.8,988.0 L1861.1,990.0 L1861.3,992.0 L1861.6,994.0 L1861.8,996.0 L1862.1,997.9 L1862.4,999.9 L1862.7,1001.9 L1862.9,1003.9 L1863.2,1005.8 L1863.5,1007.8 L1863.8,1009.8 L1864.0,1011.8 L1864.3,1013.8 L1864.6,1015.7 L1864.9,1017.7 L1865.2,1019.7 L1865.5,1021.6 L1865.8,1023.6 L1866.1,1025.6 L1866.4,1027.6 L1866.7,1029.5 L1867.0,1031.5 L1867.3,1033.5 L1867.6,1035.5 L1867.9,1037.4 L1868.2,1039.4 L1868.5,1041.4 L1868.8,1043.3 L1869.2,1045.3 L1869.5,1047.3 L1869.8,1049.3 L1870.1,1051.2 L1870.4,1053.2 L1870.8,1055.2 L1871.1,1057.1 L1871.4,1059.1 L1871.8,1061.1 L1872.1,1063.0 L1872.4,1065.0 L1872.8,1067.0 L1873.1,1068.9 L1873.5,1070.9 L1873.8,1072.9 L1874.1,1074.8 L1874.5,1076.8 L1874.8,1078.8 L1875.2,1080.7 L1875.6,1082.7 L1875.9,1084.6 L1876.3,1086.6 L1876.6,1088.6 L1877.0,1090.5 L1877.4,1092.5 L1877.7,1094.5 L1878.1,1096.4 L1878.5,1098.4 L1878.8,1100.3 L1879.2,1102.3 L1879.6,1104.3 L1880.0,1106.2 L1880.4,1108.2 L1880.8,1110.1 L1881.1,1112.1 L1881.5,1114.0 L1881.9,1116.0 L1882.3,1118.0 L1882.7,1119.9 L1883.1,1121.9 L1883.5,1123.8 L1883.9,1125.8 L1884.3,1127.7 L1884.7,1129.7 L1885.1,1131.6 L1885.6,1133.6 L1886.0,1135.5 L1886.4,1137.5 L1886.8,1139.5 L1887.2,1141.4 L1887.6,1143.4 L1888.1,1145.3 L1888.5,1147.3 L1888.9,1149.2 L1889.4,1151.2 L1889.8,1153.1 L1890.2,1155.1 L1890.7,1157.0 L1891.1,1158.9 L1891.6,1160.9 L1892.0,1162.8 L1892.5,1164.8 L1892.9,1166.7 L1893.4,1168.7 L1893.8,1170.6 L1894.3,1172.6 L1894.8,1174.5 L1895.2,1176.5 L1895.7,1178.4 L1896.2,1180.3 L1896.7,1182.3 L1897.1,1184.2 L1897.6,1186.2 L1898.1,1188.1 L1898.6,1190.0 L1899.1,1192.0 L1899.6,1193.9 L1900.1,1195.9 L1900.6,1197.8 L1901.1,1199.7 L1901.6,1201.7 L1902.1,1203.6 L1902.6,1205.5 L1903.1,1207.5 L1903.7,1209.4 L1904.2,1211.3 L1904.7,1213.3 L1905.2,1215.2 L1905.8,1217.1 L1906.3,1219.1 L1906.9,1221.0 L1907.4,1222.9 L1907.9,1224.9 L1908.5,1226.8 L1909.0,1228.7"/>
</g>
<g font-family="'Liberation Serif', 'Times New Roman', serif" fill="#000" stroke="#000" stroke-width="1.3" stroke-linejoin="round" font-size="78px">
<text transform="translate(421.52,1338.80) scale(0.975,1)"><tspan x="-2.89" y="0.00">-0.2</tspan></text>
<text transform="translate(794.68,1338.80) scale(0.975,1)"><tspan x="-2.97" y="0.00">0</tspan></text>
<text transform="translate(1099.92,1338.80) scale(0.975,1)"><tspan x="-2.97" y="0.00">0.2</tspan></text>
<text transform="translate(1431.71,1338.80) scale(0.975,1)"><tspan x="-2.97" y="0.00">0.4</tspan></text>
<text transform="translate(1765.55,1338.80) scale(0.975,1)"><tspan x="-2.97" y="0.00">0.6</tspan></text>
<text transform="translate(151.78,201.78) scale(0.975,1)"><tspan x="-2.97" y="0.00">0.35</tspan></text>
<text transform="translate(151.71,508.53) scale(0.975,1)"><tspan x="-2.97" y="0.00">0.30</tspan></text>
<text transform="translate(151.78,815.27) scale(0.975,1)"><tspan x="-2.97" y="0.00">0.25</tspan></text>
<text transform="translate(151.71,1122.02) scale(0.975,1)"><tspan x="-2.97" y="0.00">0.20</tspan></text>
<text transform="translate(331.60,126.30) scale(0.988,1)"><tspan x="-1.03" y="0.00">unmismatched</tspan></text>
<text transform="translate(381.00,291.80) scale(0.975,1)"><tspan x="-3.43" y="0.00" font-style="italic">t</tspan><tspan x="19.98" y="29.00" font-style="italic" font-size="47px">2p</tspan><tspan x="63.81" y="0.00">=</tspan><tspan x="109.64" y="0.00">0.77</tspan><tspan x="249.25" y="0.00"> eV</tspan></text>
<text transform="translate(832.00,369.60) scale(0.975,1)"><tspan x="-3.43" y="0.00" font-style="italic">t</tspan><tspan x="19.46" y="29.00" font-style="italic" font-size="47px">2p</tspan><tspan x="62.78" y="0.00">=</tspan><tspan x="107.71" y="0.00">1.5</tspan><tspan x="209.25" y="0.00"> eV</tspan></text>
<text transform="translate(1258.00,191.80) scale(0.975,1)"><tspan x="-3.43" y="0.00" font-style="italic">t</tspan><tspan x="19.98" y="29.00" font-style="italic" font-size="47px">2p</tspan><tspan x="62.37" y="0.00">=</tspan><tspan x="107.34" y="0.00">2.3</tspan><tspan x="208.63" y="0.00"> eV</tspan></text>
<text transform="translate(1334.07,1354.60) scale(1.0,1)"><tspan x="1.27" y="0.00" font-style="italic" font-size="104px">x</tspan></text>
<text transform="translate(95.5,720.0) rotate(-90) scale(0.968,1)" font-size="104px"><tspan x="7.32" y="0.00" font-size="98px">ρ</tspan><tspan x="60.31" y="0.00">(</tspan><tspan x="94.36" y="0.00" font-size="98px">ε</tspan><tspan x="134.63" y="36.70" font-style="italic" font-size="62px">F</tspan><tspan x="173.71" y="0.00">) </tspan><tspan x="235.15" y="0.00">[arb. u.]</tspan></text>
</g>
<path d="M604.5,313.5 L718.4,421.8" stroke="#000" stroke-width="2.2" fill="none"/>
<path d="M741.6,443.9 L712.7,427.8 L724.1,415.9 Z" fill="#000" stroke="#000" stroke-width="0.8" stroke-linejoin="miter"/>
<path d="M1020.3,407.3 L1109.9,555.6" stroke="#000" stroke-width="2.2" fill="none"/>
<path d="M1126.5,583.0 L1102.9,559.9 L1117.0,551.3 Z" fill="#000" stroke="#000" stroke-width="0.8" stroke-linejoin="miter"/>
<path d="M1448.1,214.2 L1551.6,346.9" stroke="#000" stroke-width="2.2" fill="none"/>
<path d="M1571.3,372.1 L1545.1,351.9 L1558.1,341.8 Z" fill="#000" stroke="#000" stroke-width="0.8" stroke-linejoin="miter"/>
</svg>
</body></html>
